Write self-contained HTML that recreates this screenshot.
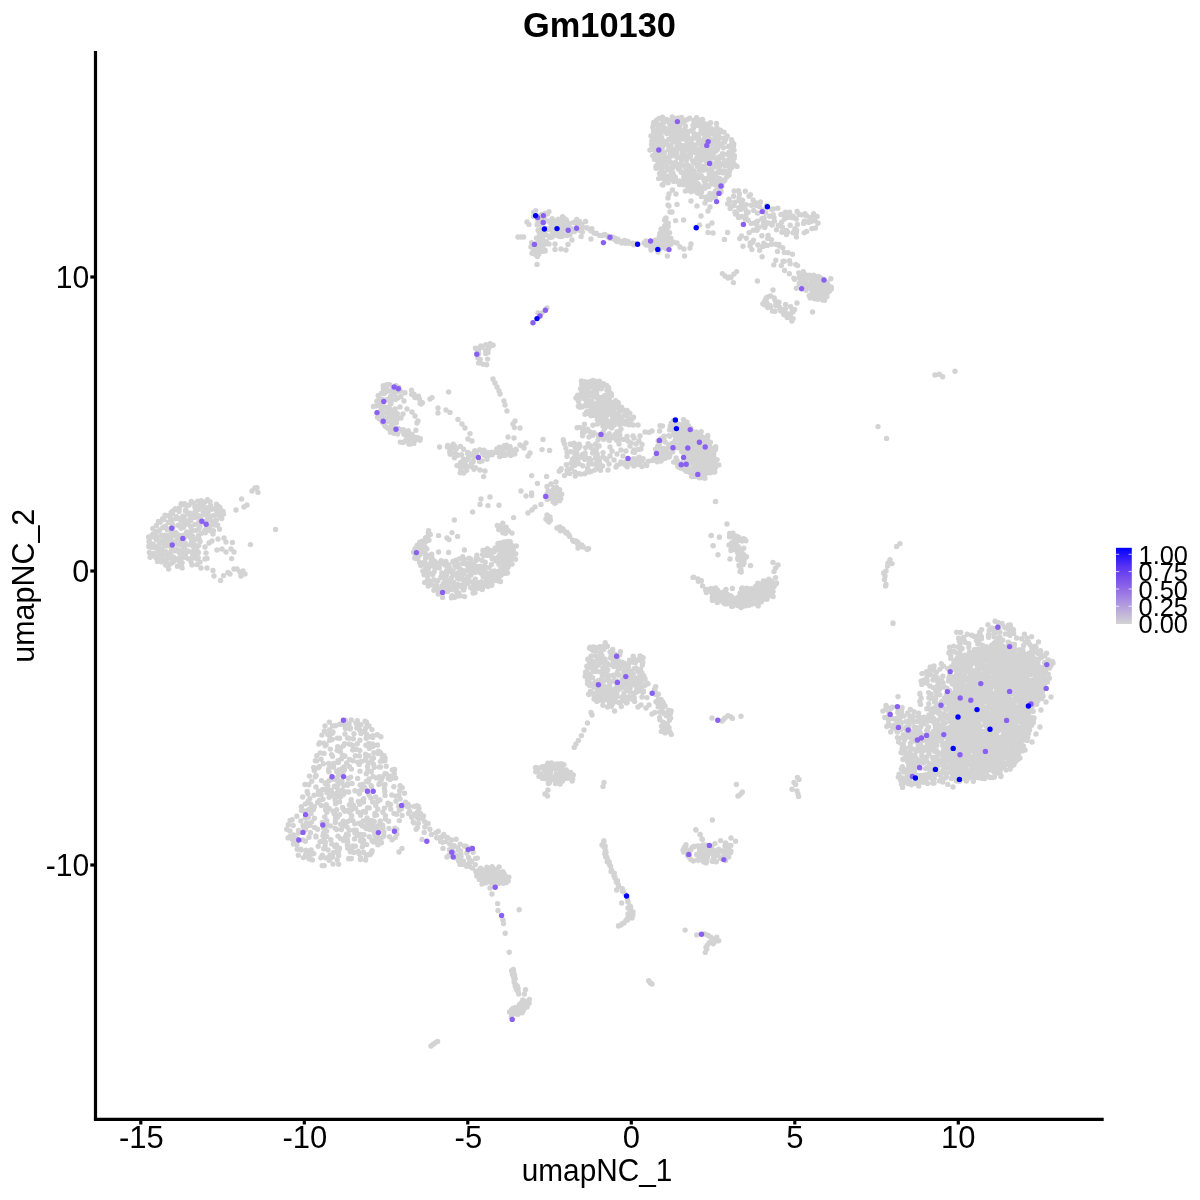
<!DOCTYPE html>
<html><head><meta charset="utf-8"><title>Gm10130</title>
<style>html,body{margin:0;padding:0;background:#fff}svg{display:block}</style>
</head><body>
<svg width="1200" height="1200" viewBox="0 0 1200 1200">
<rect width="1200" height="1200" fill="#fff"/>
<g stroke="#000" stroke-width="3.2" fill="none" stroke-linecap="butt">
<path d="M95.5 51V1119.4"/>
<path d="M93.9 1119.4H1103.7"/>
<path d="M90.3 277.0H95.5"/>
<path d="M90.3 571.0H95.5"/>
<path d="M90.3 865.0H95.5"/>
<path d="M140.8 1119.4V1124.5"/>
<path d="M304.3 1119.4V1124.5"/>
<path d="M467.8 1119.4V1124.5"/>
<path d="M631.3 1119.4V1124.5"/>
<path d="M794.8 1119.4V1124.5"/>
<path d="M958.3 1119.4V1124.5"/>
</g>
<g font-family="'Liberation Sans', Arial, Helvetica, sans-serif" fill="#000">
<text x="599.5" y="36.6" font-size="34.5" font-weight="bold" text-anchor="middle" textLength="153" lengthAdjust="spacingAndGlyphs">Gm10130</text>
<text x="89.3" y="287.7" font-size="31" text-anchor="end" textLength="33.5" lengthAdjust="spacingAndGlyphs">10</text>
<text x="89.3" y="581.7" font-size="31" text-anchor="end" textLength="17" lengthAdjust="spacingAndGlyphs">0</text>
<text x="89.3" y="875.7" font-size="31" text-anchor="end" textLength="43.5" lengthAdjust="spacingAndGlyphs">-10</text>
<text x="141.4" y="1147.6" font-size="31" text-anchor="middle">-15</text>
<text x="304.9" y="1147.6" font-size="31" text-anchor="middle">-10</text>
<text x="468.4" y="1147.6" font-size="31" text-anchor="middle">-5</text>
<text x="631.3" y="1147.6" font-size="31" text-anchor="middle">0</text>
<text x="794.8" y="1147.6" font-size="31" text-anchor="middle">5</text>
<text x="958.3" y="1147.6" font-size="31" text-anchor="middle">10</text>
<text x="597" y="1180.8" font-size="31" text-anchor="middle" textLength="150.5" lengthAdjust="spacingAndGlyphs">umapNC_1</text>
<text transform="translate(34.2 585.7) rotate(-90)" font-size="31" text-anchor="middle" textLength="154" lengthAdjust="spacingAndGlyphs">umapNC_2</text>
<text x="1138.5" y="563.9" font-size="26" textLength="49.5" lengthAdjust="spacingAndGlyphs">1.00</text>
<text x="1138.5" y="581.2" font-size="26" textLength="49.5" lengthAdjust="spacingAndGlyphs">0.75</text>
<text x="1138.5" y="598.6" font-size="26" textLength="49.5" lengthAdjust="spacingAndGlyphs">0.50</text>
<text x="1138.5" y="615.9" font-size="26" textLength="49.5" lengthAdjust="spacingAndGlyphs">0.25</text>
<text x="1138.5" y="633.3" font-size="26" textLength="49.5" lengthAdjust="spacingAndGlyphs">0.00</text>
</g>
<defs><linearGradient id="lg" x1="0" y1="0" x2="0" y2="1"><stop offset="0" stop-color="#0000ff"/><stop offset="0.25" stop-color="#5a34f2"/><stop offset="0.5" stop-color="#8a62e8"/><stop offset="0.75" stop-color="#b29bdf"/><stop offset="1" stop-color="#d3d3d3"/></linearGradient></defs>
<rect x="1116" y="547.8" width="15.8" height="76.2" fill="url(#lg)"/>
<g stroke="#fff" stroke-width="0.9" opacity="0.8">
<path d="M1116 554.3h3.2M1131.8 554.3h-3.2"/>
<path d="M1116 571.6h3.2M1131.8 571.6h-3.2"/>
<path d="M1116 589.0h3.2M1131.8 589.0h-3.2"/>
<path d="M1116 606.3h3.2M1131.8 606.3h-3.2"/>
</g>
<path d="M810.0 280.0L820.0 276.0L828.0 282.0L829.0 293.0L821.0 299.0L813.0 297.0L810.0 288.0Z M665.6 222.0L669.0 238.0L668.0 246.0L660.0 247.0L652.0 244.0L659.0 239.0L662.4 231.0Z M500.0 542.0L512.0 546.0L513.0 556.0L509.0 568.0L502.0 576.0L494.0 582.0L486.0 584.0L485.0 578.0L492.0 572.0L500.0 570.0L504.0 560.0L502.0 550.0Z M684.0 424.0L695.0 432.0L705.0 437.0L713.0 449.0L716.0 463.0L713.0 472.0L704.0 475.0L696.0 470.0L692.0 458.0L686.0 450.0L680.0 436.0L676.0 426.0Z M708.0 589.0L720.0 594.0L734.0 598.0L746.0 592.0L754.0 592.0L764.0 584.0L773.0 581.0L773.0 592.0L767.0 599.0L757.0 603.0L746.0 605.0L732.0 605.0L720.0 600.0L713.0 597.0Z M478.0 875.0L484.0 869.0L494.0 868.0L505.0 874.0L507.0 879.0L503.0 883.0L494.0 883.6L482.0 882.0Z" fill="#d3d3d3" stroke="#d3d3d3" stroke-width="3" stroke-linejoin="round"/>
<g fill="none" stroke-linecap="round" stroke-width="5.4">
<path stroke="#d3d3d3" d="M694.7 186.8h0M663.6 120.6h0M718.1 145.0h0M699.2 125.6h0M673.2 117.8h0M716.8 127.6h0M718.1 187.5h0M673.3 174.7h0M687.3 164.7h0M683.9 181.0h0M704.6 185.6h0M711.2 180.4h0M655.4 156.5h0M709.5 160.0h0M733.2 162.1h0M691.1 145.5h0M717.1 138.7h0M716.8 190.1h0M724.9 171.1h0M670.1 125.4h0M686.7 139.0h0M662.3 147.7h0M675.6 163.1h0M675.9 137.0h0M680.1 144.6h0M702.6 133.3h0M719.2 163.1h0M699.6 170.3h0M673.7 181.4h0M671.0 132.2h0M701.4 196.5h0M678.1 117.9h0M723.6 147.7h0M698.0 155.3h0M681.6 121.5h0M675.0 123.2h0M656.1 168.2h0M733.3 157.1h0M717.1 149.9h0M663.7 129.4h0M672.9 167.6h0M692.8 170.8h0M677.6 157.1h0M660.6 151.7h0M696.5 117.8h0M706.2 134.9h0M692.2 179.8h0M684.9 129.1h0M726.8 176.7h0M652.7 155.6h0M655.2 136.3h0M694.1 133.5h0M725.9 165.5h0M657.0 144.8h0M701.6 141.4h0M697.4 175.1h0M678.4 131.1h0M693.7 162.4h0M679.4 133.4h0M658.0 160.4h0M699.7 170.4h0M720.5 130.3h0M730.5 158.4h0M721.5 179.9h0M716.5 123.5h0M714.6 192.8h0M687.6 189.2h0M669.7 161.5h0M710.8 152.5h0M713.5 181.2h0M663.1 140.7h0M651.9 140.7h0M724.0 138.2h0M699.1 139.6h0M670.6 120.4h0M703.5 166.1h0M690.5 156.1h0M681.7 160.5h0M714.8 135.4h0M680.4 131.4h0M724.3 162.5h0M689.2 138.7h0M683.8 123.3h0M658.7 161.6h0M673.7 125.1h0M708.5 177.4h0M690.0 171.3h0M733.4 158.8h0M691.7 167.6h0M656.7 120.1h0M731.7 167.6h0M679.4 184.6h0M672.1 140.0h0M667.6 177.5h0M698.7 159.0h0M677.0 164.4h0M712.5 130.9h0M685.1 165.3h0M713.2 174.9h0M715.2 151.5h0M710.2 199.6h0M680.2 121.1h0M705.8 124.0h0M709.1 137.7h0M691.7 139.4h0M704.0 150.2h0M693.5 128.2h0M710.9 142.4h0M731.6 146.5h0M705.5 197.1h0M724.0 154.1h0M686.9 184.9h0M675.6 149.0h0M704.9 188.3h0M693.9 120.4h0M690.8 184.6h0M718.0 178.3h0M686.3 175.3h0M717.1 172.7h0M729.8 146.6h0M717.6 148.9h0M678.6 181.2h0M664.1 173.2h0M662.1 167.3h0M659.2 140.0h0M719.2 156.7h0M732.1 141.8h0M660.3 125.0h0M703.4 170.2h0M698.7 149.1h0M699.7 177.2h0M709.3 134.1h0M666.4 130.1h0M664.5 152.7h0M687.2 133.8h0M707.9 144.8h0M671.1 145.2h0M672.1 127.5h0M719.7 145.8h0M713.7 153.6h0M717.2 143.8h0M682.3 151.3h0M713.4 167.0h0M701.1 130.8h0M684.1 148.8h0M692.6 138.6h0M685.3 191.1h0M676.3 128.1h0M696.6 158.3h0M664.8 180.7h0M686.5 147.4h0M659.5 173.5h0M705.4 145.8h0M718.2 167.7h0M684.7 172.5h0M713.0 147.9h0M700.8 167.8h0M660.3 137.2h0M682.7 145.6h0M709.2 173.1h0M711.9 131.0h0M692.5 160.6h0M731.5 139.7h0M656.9 131.2h0M678.2 181.8h0M654.9 149.1h0M696.6 122.5h0M665.1 176.0h0M718.6 134.3h0M698.3 125.7h0M710.2 164.7h0M672.0 178.6h0M668.2 182.7h0M729.6 167.5h0M673.0 149.5h0M687.3 184.4h0M679.4 182.0h0M714.4 142.1h0M659.5 156.4h0M655.3 158.8h0M680.9 163.8h0M694.8 148.7h0M662.5 117.2h0M719.8 178.8h0M679.5 180.9h0M715.7 190.8h0M658.6 178.6h0M680.5 157.2h0M671.6 163.0h0M673.4 141.4h0M660.6 147.6h0M699.8 157.7h0M695.0 152.6h0M731.5 167.3h0M722.5 157.9h0M706.7 145.5h0M712.7 197.2h0M704.7 146.0h0M654.7 140.5h0M723.0 164.1h0M702.1 189.7h0M697.1 178.1h0M675.1 129.9h0M727.4 160.4h0M724.7 142.0h0M658.3 129.2h0M658.9 163.7h0M671.0 171.4h0M700.8 160.4h0M666.5 119.4h0M688.3 190.3h0M678.8 128.6h0M665.7 141.7h0M656.8 142.3h0M685.2 176.9h0M671.4 150.5h0M658.0 156.9h0M690.1 156.7h0M658.5 150.0h0M718.9 172.4h0M689.8 118.3h0M685.8 168.5h0M664.8 161.0h0M654.0 146.8h0M724.1 181.1h0M701.4 192.3h0M718.9 182.9h0M698.2 143.2h0M699.3 165.1h0M686.9 179.9h0M687.2 156.4h0M722.7 172.8h0M663.2 176.2h0M697.8 139.5h0M728.5 146.5h0M677.0 123.6h0M700.4 141.5h0M731.8 151.1h0M727.7 174.1h0M666.9 133.7h0M693.4 173.0h0M683.5 184.7h0M670.6 176.8h0M727.1 163.4h0M697.9 134.7h0M685.2 133.8h0M729.0 152.1h0M651.5 144.3h0M658.0 167.9h0M734.2 158.1h0M677.0 137.5h0M662.5 122.9h0M702.6 119.5h0M685.7 159.7h0M707.0 185.2h0M685.5 148.8h0M698.0 134.9h0M664.7 179.8h0M691.7 178.7h0M712.2 180.2h0M700.7 153.8h0M733.5 146.2h0M691.5 151.6h0M699.4 186.2h0M708.8 134.7h0M666.1 166.0h0M682.2 154.6h0M683.8 177.2h0M704.0 159.6h0M652.8 127.5h0M692.0 144.0h0M712.0 145.2h0M684.5 135.9h0M662.2 184.7h0M723.9 132.1h0M710.9 146.9h0M699.9 176.4h0M662.2 171.2h0M713.9 180.7h0M672.3 133.5h0M653.7 122.5h0M707.9 196.8h0M662.5 178.2h0M718.2 140.2h0M672.6 165.8h0M708.1 164.0h0M707.7 169.8h0M729.4 162.0h0M718.1 161.2h0M687.8 131.7h0M720.1 132.0h0M714.0 196.3h0M731.4 144.9h0M669.2 162.8h0M716.9 128.7h0M708.7 186.6h0M662.8 167.2h0M688.4 119.0h0M663.2 157.9h0M683.2 130.1h0M653.5 131.3h0M709.9 157.7h0M692.2 175.6h0M712.3 146.3h0M713.0 183.5h0M705.3 141.2h0M714.1 131.0h0M705.3 130.6h0M711.8 170.1h0M695.3 175.4h0M722.5 170.9h0M725.1 165.8h0M654.4 150.0h0M687.8 137.0h0M696.8 192.2h0M703.8 124.1h0M713.8 195.6h0M706.6 128.8h0M701.2 166.1h0M709.9 193.5h0M689.2 149.7h0M712.4 183.7h0M697.7 193.1h0M669.3 156.9h0M719.8 137.6h0M667.7 176.1h0M663.6 160.4h0M696.0 184.8h0M707.1 186.4h0M661.7 129.7h0M732.0 162.7h0M711.9 198.0h0M667.4 181.3h0M717.6 138.1h0M697.8 150.4h0M654.4 159.3h0M695.3 188.1h0M722.6 172.1h0M652.4 147.0h0M686.8 137.2h0M691.6 150.8h0M722.4 153.7h0M667.6 169.7h0M661.6 137.3h0M670.2 168.4h0M710.9 132.1h0M672.7 172.4h0M677.3 120.3h0M656.0 154.8h0M687.4 181.4h0M704.2 144.1h0M681.3 123.2h0M697.6 166.4h0M712.5 158.1h0M661.6 166.3h0M711.5 183.9h0M681.2 158.7h0M697.6 189.8h0M662.6 145.2h0M711.7 168.5h0M684.3 159.4h0M688.5 169.7h0M704.5 154.3h0M701.3 175.7h0M655.9 166.5h0M662.5 155.3h0M676.7 152.8h0M728.0 154.8h0M669.4 176.2h0M670.4 170.0h0M701.7 146.2h0M718.9 182.7h0M675.4 177.3h0M679.6 126.3h0M677.5 148.9h0M705.1 155.4h0M701.1 152.5h0M687.0 169.4h0M654.2 130.4h0M686.6 174.8h0M672.5 130.3h0M706.6 133.3h0M681.1 172.2h0M691.1 130.7h0M727.3 165.3h0M680.0 169.8h0M704.8 137.3h0M716.4 148.7h0M707.2 155.9h0M690.7 152.4h0M670.4 147.4h0M691.3 142.9h0M720.8 131.7h0M721.0 171.5h0M731.9 154.5h0M659.8 133.3h0M668.4 149.6h0M653.1 142.2h0M686.8 144.0h0M721.5 144.1h0M703.5 178.1h0M704.6 168.4h0M686.9 144.2h0M703.6 140.3h0M698.3 191.0h0M672.3 116.9h0M693.9 126.0h0M718.2 178.0h0M727.2 135.9h0M664.5 157.0h0M691.8 186.9h0M673.0 124.2h0M694.8 190.5h0M722.2 183.1h0M666.7 144.6h0M666.1 179.3h0M675.5 119.1h0M673.7 155.7h0M689.7 152.6h0M657.4 164.8h0M663.4 131.7h0M654.0 155.3h0M662.1 159.9h0M661.0 163.0h0M700.3 120.3h0M653.6 125.6h0M716.6 192.5h0M710.3 162.8h0M696.0 182.8h0M675.1 154.0h0M669.2 128.6h0M714.0 179.8h0M710.0 142.6h0M685.4 125.9h0M704.1 180.4h0M703.5 144.0h0M721.8 186.2h0M686.6 159.8h0M710.1 159.7h0M698.6 137.1h0M694.3 184.7h0M660.2 154.4h0M733.7 144.0h0M703.4 158.4h0M675.6 162.3h0M694.1 122.7h0M655.5 152.0h0M720.9 191.0h0M653.5 124.9h0M702.2 153.2h0M725.0 179.7h0M678.2 141.5h0M691.3 191.8h0M672.9 140.9h0M706.3 200.0h0M712.7 178.9h0M706.7 179.4h0M706.1 157.2h0M708.0 150.1h0M718.6 158.9h0M656.9 152.2h0M709.0 125.9h0M715.9 162.7h0M682.0 181.5h0M660.4 142.1h0M684.0 156.4h0M709.9 145.2h0M682.3 139.1h0M668.7 139.4h0M672.6 177.9h0M682.1 147.6h0M714.7 148.1h0M710.3 170.4h0M708.1 154.0h0M680.8 135.4h0M691.0 152.8h0M690.1 149.6h0M664.1 122.2h0M656.0 139.0h0M677.1 144.4h0M676.2 130.1h0M681.4 122.7h0M701.0 149.6h0M698.7 184.8h0M685.6 139.2h0M721.0 191.9h0M725.6 139.2h0M689.3 174.0h0M670.2 153.9h0M683.5 173.7h0M682.5 135.8h0M710.3 140.1h0M693.1 125.3h0M667.2 144.1h0M675.7 154.0h0M663.3 161.9h0M710.9 133.4h0M673.8 165.7h0M697.6 183.5h0M686.4 120.0h0M706.7 161.8h0M683.4 138.4h0M715.6 174.0h0M714.5 139.2h0M672.9 134.2h0M658.1 147.1h0M660.6 147.7h0M687.8 184.6h0M694.2 135.7h0M723.7 142.1h0M657.8 125.6h0M715.2 197.6h0M669.5 123.3h0M696.0 163.8h0M715.2 194.9h0M729.6 154.0h0M675.8 137.0h0M671.3 137.1h0M695.3 145.1h0M704.3 127.0h0M681.8 165.3h0M710.6 122.8h0M685.6 176.9h0M669.5 128.6h0M684.3 152.1h0M664.4 127.6h0M658.9 118.5h0M694.9 148.6h0M734.0 150.2h0M661.9 173.7h0M705.0 182.5h0M715.7 185.1h0M681.6 117.5h0M719.9 166.0h0M729.6 171.3h0M687.0 181.2h0M700.5 123.6h0M719.6 145.4h0M664.3 158.3h0M654.7 131.7h0M708.1 156.9h0M716.6 158.1h0M656.5 121.3h0M677.3 137.0h0M694.2 171.0h0M718.0 181.3h0M676.1 131.9h0M682.1 119.1h0M690.3 177.3h0M652.1 143.1h0M674.9 180.0h0M711.4 128.8h0M703.2 129.7h0M664.9 158.9h0M701.1 126.4h0M678.4 169.0h0M689.2 165.9h0M691.8 146.2h0M672.0 129.6h0M677.4 157.6h0M651.0 136.0h0M650.0 150.0h0M735.0 165.0h0M737.0 166.4h0M734.4 155.6h0M663.0 185.0h0M729.0 175.0h0M785.0 213.1h0M728.9 199.1h0M761.9 218.8h0M756.2 203.0h0M796.6 230.1h0M743.0 206.9h0M749.0 196.3h0M774.0 217.6h0M745.3 219.2h0M803.6 223.4h0M757.3 213.1h0M776.5 229.7h0M741.6 203.4h0M786.4 234.6h0M796.4 237.1h0M740.8 209.3h0M781.9 232.2h0M772.2 225.0h0M736.6 212.9h0M734.2 190.9h0M766.1 222.6h0M730.2 208.5h0M785.6 216.2h0M799.0 214.3h0M797.1 211.5h0M769.7 216.3h0M780.9 214.4h0M811.9 221.2h0M771.2 223.4h0M805.0 213.7h0M789.7 212.2h0M797.4 224.5h0M773.4 209.0h0M810.6 217.5h0M817.1 216.4h0M742.6 200.3h0M763.5 210.0h0M748.1 220.3h0M808.7 222.4h0M760.6 201.9h0M746.3 211.9h0M745.0 208.5h0M785.4 212.2h0M753.0 205.1h0M792.5 217.7h0M734.1 205.5h0M764.8 227.4h0M796.3 219.0h0M782.3 227.2h0M762.8 226.1h0M734.8 202.3h0M764.2 217.9h0M815.5 228.0h0M738.8 207.7h0M777.8 208.2h0M738.5 217.6h0M814.8 220.6h0M741.8 216.5h0M804.3 232.7h0M789.6 217.4h0M778.2 225.4h0M781.6 222.3h0M763.4 222.4h0M793.1 232.8h0M753.1 199.9h0M765.7 212.7h0M766.7 205.7h0M745.8 216.2h0M759.6 206.7h0M751.3 205.3h0M811.9 228.6h0M757.0 225.6h0M739.4 194.0h0M757.3 226.9h0M793.2 216.3h0M746.2 204.6h0M748.2 212.3h0M758.3 227.9h0M751.2 223.4h0M735.5 214.0h0M796.5 232.6h0M807.8 221.6h0M733.7 196.3h0M766.3 223.9h0M738.5 190.7h0M756.0 205.2h0M784.5 218.9h0M727.6 203.7h0M818.1 223.1h0M757.4 221.3h0M817.9 223.3h0M750.5 194.6h0M806.7 216.0h0M786.7 230.5h0M784.3 219.0h0M757.9 213.1h0M729.7 201.2h0M767.6 222.8h0M738.7 200.7h0M745.3 191.2h0M753.7 210.4h0M786.9 217.2h0M774.6 221.1h0M732.3 206.1h0M802.0 214.9h0M735.0 211.9h0M814.4 216.6h0M771.6 209.3h0M806.6 231.4h0M754.6 223.0h0M739.1 198.0h0M794.9 228.8h0M771.5 224.5h0M790.2 225.2h0M813.6 213.8h0M773.2 214.6h0M740.1 217.0h0M804.2 221.2h0M787.6 232.2h0M752.0 204.9h0M775.7 244.2h0M746.3 238.2h0M803.3 271.6h0M775.8 260.2h0M743.0 246.3h0M761.9 235.8h0M784.3 261.2h0M789.4 273.8h0M797.6 265.6h0M759.6 250.2h0M751.9 249.6h0M794.6 279.2h0M798.8 273.0h0M782.8 247.8h0M750.1 246.1h0M771.4 239.7h0M762.1 256.7h0M784.3 252.4h0M784.6 270.5h0M757.1 230.2h0M750.3 242.9h0M763.8 243.2h0M752.7 242.2h0M757.9 245.0h0M805.1 274.4h0M795.8 264.4h0M749.1 232.7h0M739.7 238.5h0M773.8 264.9h0M777.5 251.4h0M793.8 278.1h0M792.5 254.3h0M778.9 244.5h0M771.5 244.2h0M783.0 261.4h0M741.6 236.0h0M765.8 245.2h0M781.3 265.6h0M789.6 260.8h0M767.8 238.4h0M753.2 230.3h0M788.1 252.7h0M762.8 246.4h0M753.4 240.3h0M790.2 263.7h0M768.1 235.4h0M767.5 245.4h0M779.2 246.1h0M829.5 290.9h0M805.3 281.6h0M816.8 289.2h0M812.3 292.6h0M801.7 289.1h0M818.0 299.3h0M822.7 300.1h0M814.4 288.1h0M827.3 283.3h0M802.4 276.4h0M814.9 277.6h0M802.8 285.9h0M820.3 280.5h0M825.4 288.6h0M810.2 297.9h0M806.6 288.7h0M796.3 288.3h0M821.2 292.1h0M817.4 277.4h0M807.9 278.2h0M826.5 296.4h0M805.4 279.7h0M831.4 288.9h0M818.3 298.9h0M799.6 282.7h0M819.1 288.5h0M799.2 277.5h0M799.3 283.8h0M812.2 286.8h0M830.8 278.8h0M831.2 287.3h0M829.3 286.2h0M821.3 279.6h0M809.2 295.4h0M822.2 279.5h0M813.5 285.0h0M801.7 280.7h0M807.0 283.9h0M827.0 296.5h0M813.7 275.3h0M825.8 291.3h0M827.2 286.4h0M809.6 275.3h0M824.6 300.3h0M808.1 285.6h0M818.2 283.8h0M811.6 282.7h0M821.9 284.2h0M801.1 283.4h0M804.8 284.3h0M819.2 283.6h0M805.8 287.1h0M818.3 291.1h0M814.7 298.7h0M814.8 282.3h0M802.4 288.7h0M806.1 290.2h0M815.0 286.2h0M818.1 276.4h0M813.6 276.2h0M787.0 313.7h0M791.8 321.1h0M779.0 302.2h0M782.8 309.6h0M765.9 298.4h0M793.0 311.9h0M764.9 304.9h0M774.2 298.0h0M779.7 308.1h0M785.4 308.8h0M775.0 311.2h0M762.9 303.7h0M770.5 306.8h0M792.2 311.1h0M794.6 309.4h0M780.8 311.1h0M769.9 305.5h0M785.6 304.5h0M769.1 296.4h0M779.6 307.2h0M783.8 314.5h0M791.0 318.0h0M768.6 305.4h0M775.2 300.6h0M766.8 303.1h0M775.8 305.6h0M766.1 299.6h0M790.4 314.1h0M782.3 311.0h0M772.5 311.0h0M770.5 295.9h0M787.2 317.6h0M790.6 306.7h0M775.8 304.4h0M767.1 297.2h0M764.7 301.1h0M793.1 318.6h0M767.7 307.5h0M812.6 312.0h0M797.0 303.0h0M773.0 290.0h0M757.4 281.0h0M722.4 273.6h0M725.0 276.0h0M728.0 278.0h0M731.0 277.6h0M734.0 274.0h0M736.6 271.6h0M733.4 282.6h0M729.6 277.0h0M669.0 194.0h0M676.0 194.0h0M668.0 205.0h0M677.0 204.4h0M670.0 212.0h0M666.0 218.0h0M667.0 224.0h0M665.0 230.0h0M675.6 220.6h0M683.6 220.0h0M672.4 190.0h0M668.0 198.0h0M669.0 206.0h0M672.0 212.0h0M655.3 240.3h0M661.7 247.5h0M667.9 224.2h0M670.8 238.1h0M661.1 229.0h0M666.9 245.1h0M664.0 237.6h0M659.6 237.4h0M653.1 244.5h0M661.1 240.0h0M653.5 244.3h0M661.5 232.6h0M664.5 220.0h0M654.0 247.8h0M652.0 241.8h0M665.8 233.4h0M669.5 232.7h0M667.2 238.9h0M650.0 246.2h0M667.0 222.9h0M661.8 239.1h0M661.1 243.4h0M657.1 248.7h0M668.2 226.5h0M673.3 242.0h0M664.6 247.1h0M665.0 242.8h0M670.7 244.5h0M653.1 245.0h0M664.7 225.6h0M664.2 236.6h0M672.6 242.8h0M649.3 245.5h0M664.2 242.1h0M665.9 248.8h0M662.0 239.6h0M660.4 243.6h0M665.3 248.3h0M659.2 237.0h0M663.4 233.2h0M668.3 246.2h0M664.7 238.0h0M664.7 236.4h0M669.9 243.9h0M667.0 229.5h0M659.8 233.4h0M668.2 223.1h0M651.3 246.2h0M659.2 249.5h0M648.6 244.0h0M677.0 243.0h0M680.0 247.0h0M684.0 249.0h0M691.0 244.0h0M690.0 248.0h0M684.6 256.0h0M667.4 256.0h0M691.0 201.0h0M697.0 206.0h0M701.0 216.0h0M708.0 211.0h0M708.0 226.0h0M712.0 223.0h0M713.0 233.0h0M708.0 232.4h0M699.6 225.0h0M727.6 232.4h0M724.4 239.4h0M705.0 203.0h0M710.0 207.0h0M543.0 249.0h0M579.5 223.2h0M535.0 254.3h0M536.7 238.2h0M557.7 225.5h0M546.4 241.6h0M546.8 228.8h0M572.2 229.0h0M545.9 213.9h0M537.9 220.7h0M531.0 247.0h0M541.8 214.4h0M545.7 234.5h0M562.3 233.4h0M535.7 210.6h0M542.2 235.5h0M581.8 224.4h0M573.8 222.5h0M570.0 234.7h0M544.7 221.2h0M547.4 214.0h0M561.0 230.7h0M565.7 226.8h0M562.2 221.7h0M569.7 232.6h0M536.7 246.4h0M548.8 236.2h0M566.6 221.5h0M563.9 224.0h0M539.9 233.8h0M540.8 224.2h0M537.4 253.1h0M553.0 223.4h0M576.9 221.3h0M579.7 230.6h0M559.9 236.5h0M566.2 219.7h0M591.1 230.9h0M552.1 237.1h0M544.8 219.2h0M555.3 221.3h0M564.1 227.8h0M549.6 220.9h0M536.8 251.4h0M579.8 221.7h0M545.4 228.5h0M533.8 212.2h0M556.4 230.6h0M535.5 252.3h0M562.3 236.3h0M570.7 230.9h0M562.5 227.8h0M539.4 233.3h0M558.3 219.3h0M539.0 241.6h0M576.8 219.4h0M585.6 221.5h0M550.6 228.7h0M561.2 232.2h0M540.9 217.8h0M569.2 223.4h0M566.9 224.6h0M587.1 228.0h0M576.2 223.5h0M545.7 230.0h0M568.1 231.5h0M582.4 232.1h0M540.1 229.7h0M557.4 228.2h0M541.6 218.1h0M558.9 236.2h0M542.3 232.1h0M555.8 229.0h0M536.7 252.7h0M533.3 252.5h0M549.9 222.6h0M537.7 216.3h0M534.5 214.8h0M561.3 220.3h0M567.4 230.9h0M542.7 223.5h0M533.6 216.4h0M582.0 227.8h0M559.8 232.7h0M562.6 216.7h0M533.3 244.3h0M535.2 243.9h0M540.7 246.2h0M546.3 229.8h0M558.7 220.2h0M556.6 229.8h0M541.8 222.4h0M555.8 235.1h0M542.7 223.0h0M552.2 218.8h0M557.7 231.3h0M554.9 225.1h0M553.6 233.4h0M562.8 228.9h0M551.5 227.2h0M554.5 228.4h0M552.0 223.0h0M563.9 218.1h0M550.8 227.7h0M545.0 213.5h0M574.4 231.5h0M538.1 230.2h0M550.1 237.6h0M542.5 215.8h0M552.2 234.7h0M558.6 227.8h0M560.6 226.8h0M567.1 235.4h0M533.7 250.2h0M545.2 251.1h0M540.3 242.9h0M545.5 229.3h0M571.1 228.3h0M586.4 227.6h0M558.8 221.2h0M550.3 229.8h0M537.1 224.7h0M561.1 220.5h0M557.2 228.0h0M563.5 223.6h0M535.3 248.5h0M542.3 242.6h0M569.7 231.9h0M537.4 238.4h0M581.1 236.6h0M527.0 222.0h0M529.0 224.4h0M518.0 237.0h0M521.0 237.0h0M523.6 237.0h0M555.0 249.4h0M561.0 249.0h0M566.0 250.0h0M568.0 244.4h0M572.0 240.0h0M537.0 264.4h0M591.0 239.0h0M549.0 211.6h0M555.0 244.0h0M549.0 244.0h0M534.6 246.1h0M542.8 247.0h0M536.5 237.9h0M538.5 253.2h0M540.6 240.2h0M545.0 250.3h0M536.9 246.2h0M545.0 250.5h0M540.1 246.1h0M539.6 248.3h0M542.5 251.3h0M542.8 237.8h0M538.4 242.1h0M533.6 249.6h0M538.4 244.7h0M545.2 244.1h0M532.0 253.2h0M531.6 242.6h0M537.4 256.5h0M538.8 253.9h0M620.3 241.6h0M635.3 243.8h0M595.4 233.6h0M615.2 239.5h0M622.6 241.3h0M611.9 237.0h0M610.4 238.6h0M604.7 234.4h0M608.6 237.4h0M614.6 239.5h0M607.9 236.7h0M616.1 240.0h0M625.6 243.2h0M628.8 242.7h0M612.0 236.9h0M618.0 239.1h0M603.2 234.9h0M628.0 241.4h0M621.6 243.1h0M594.0 233.1h0M614.7 239.0h0M590.3 229.4h0M633.6 244.8h0M599.6 235.4h0M607.8 236.1h0M607.7 236.2h0M616.8 241.6h0M602.5 235.6h0M632.7 243.3h0M629.0 243.2h0M614.7 238.0h0M596.2 233.3h0M591.8 228.7h0M624.9 240.5h0M646.0 241.0h0M646.0 245.0h0M651.0 250.0h0M658.0 252.0h0M644.0 243.0h0M547.0 308.0h0M538.0 313.0h0M542.0 313.0h0M475.5 348.2h0M485.8 353.5h0M483.1 364.2h0M488.0 352.5h0M480.2 359.4h0M493.1 345.3h0M478.6 363.0h0M480.9 347.5h0M485.8 344.6h0M477.9 357.7h0M478.6 353.7h0M486.7 364.7h0M485.7 350.4h0M490.1 343.6h0M478.5 351.6h0M487.6 359.1h0M477.1 353.5h0M490.2 346.3h0M482.0 347.0h0M480.9 346.0h0M478.4 348.1h0M488.4 348.9h0M493.0 379.0h0M495.0 383.0h0M497.0 387.0h0M499.0 391.0h0M500.0 394.0h0M504.0 401.0h0M505.0 405.0h0M507.0 411.0h0M515.0 421.0h0M513.0 424.0h0M514.4 427.6h0M520.0 428.0h0M508.0 437.0h0M514.0 438.0h0M404.9 392.7h0M381.0 417.4h0M392.7 391.0h0M378.6 402.2h0M384.6 425.3h0M412.1 434.4h0M396.4 422.8h0M380.9 410.0h0M388.1 417.1h0M414.9 440.6h0M413.8 443.4h0M387.5 399.4h0M420.3 438.8h0M394.8 416.9h0M379.4 418.9h0M408.5 441.3h0M402.8 432.1h0M393.1 416.0h0M398.2 428.5h0M377.5 417.3h0M379.9 416.9h0M381.6 393.2h0M400.3 391.0h0M420.0 440.2h0M381.0 415.1h0M386.9 420.1h0M389.2 390.9h0M376.9 401.3h0M387.0 407.5h0M409.8 435.1h0M420.0 439.3h0M378.9 418.2h0M378.8 413.3h0M395.4 399.4h0M414.9 397.6h0M403.9 434.2h0M408.2 430.6h0M373.4 406.4h0M390.3 427.1h0M418.5 396.3h0M415.9 430.2h0M414.0 394.3h0M390.8 403.7h0M397.5 433.9h0M382.9 413.9h0M392.0 429.2h0M411.6 390.3h0M406.3 431.5h0M376.5 405.8h0M408.4 436.1h0M400.8 396.5h0M406.5 439.9h0M393.1 414.8h0M394.7 394.4h0M422.4 402.8h0M386.9 391.4h0M395.9 385.8h0M382.3 422.2h0M398.9 390.8h0M390.4 432.2h0M414.8 437.1h0M411.7 394.2h0M420.1 403.6h0M390.5 396.5h0M403.1 442.4h0M419.5 399.3h0M390.7 410.6h0M379.0 405.2h0M398.9 387.4h0M396.9 416.2h0M403.3 429.6h0M378.2 395.5h0M406.9 438.0h0M408.9 444.1h0M388.3 428.5h0M391.5 424.3h0M391.0 403.1h0M393.1 425.1h0M393.0 388.3h0M397.4 389.9h0M397.3 413.8h0M394.0 433.2h0M385.0 419.5h0M390.5 419.5h0M393.1 391.4h0M382.9 415.8h0M395.3 412.3h0M400.3 442.1h0M390.8 413.8h0M408.7 432.6h0M413.1 438.7h0M394.2 423.0h0M388.8 410.5h0M416.2 397.4h0M390.6 391.1h0M384.2 393.5h0M407.8 436.0h0M379.0 415.2h0M387.6 421.3h0M380.1 400.4h0M386.8 384.8h0M421.2 404.1h0M393.1 427.8h0M381.0 405.7h0M382.7 399.4h0M393.4 420.7h0M401.1 429.6h0M405.3 440.7h0M383.2 412.0h0M387.1 412.5h0M389.7 384.6h0M411.9 438.6h0M410.5 444.1h0M397.4 418.7h0M393.0 411.4h0M391.2 399.7h0M378.8 402.2h0M385.7 426.8h0M378.8 396.8h0M388.6 408.7h0M409.7 434.0h0M383.2 385.8h0M386.2 388.4h0M397.9 398.0h0M411.3 435.0h0M389.3 406.9h0M389.9 402.0h0M410.7 438.9h0M394.4 421.3h0M385.5 388.2h0M377.7 403.2h0M385.5 426.2h0M395.0 408.9h0M417.8 437.7h0M383.9 406.8h0M417.2 437.6h0M383.5 388.8h0M398.0 391.4h0M404.0 401.0h0M400.0 407.0h0M407.0 409.0h0M412.0 412.0h0M415.0 416.0h0M418.0 421.0h0M417.0 423.0h0M403.0 414.0h0M401.0 418.0h0M430.0 399.0h0M432.0 397.6h0M438.0 408.0h0M438.0 413.0h0M446.0 410.0h0M450.0 412.4h0M448.6 392.0h0M458.0 419.4h0M462.0 424.0h0M465.0 428.0h0M470.0 433.6h0M468.0 439.0h0M472.0 441.0h0M456.4 448.7h0M466.5 465.9h0M483.9 450.3h0M473.0 462.1h0M503.2 451.1h0M463.6 449.3h0M466.7 470.2h0M453.2 444.2h0M506.4 447.1h0M473.5 456.3h0M468.3 458.0h0M455.2 453.3h0M474.3 452.8h0M507.6 446.8h0M499.2 447.3h0M450.2 454.3h0M463.3 459.0h0M511.2 450.0h0M463.8 473.0h0M491.7 452.3h0M508.4 448.4h0M460.6 467.6h0M467.0 459.8h0M499.9 449.0h0M482.6 453.3h0M477.5 456.6h0M465.2 464.0h0M500.5 450.5h0M460.2 472.8h0M514.8 454.0h0M487.3 453.1h0M467.9 452.5h0M479.6 461.6h0M487.8 455.9h0M481.9 461.0h0M450.4 450.8h0M503.5 453.2h0M499.7 456.5h0M516.3 450.1h0M454.6 445.9h0M475.6 467.7h0M464.9 466.2h0M460.3 446.4h0M471.5 463.5h0M467.7 453.6h0M458.0 455.2h0M498.1 452.8h0M487.0 459.2h0M454.4 457.7h0M507.6 448.2h0M509.2 452.6h0M471.2 466.6h0M476.7 452.3h0M500.1 454.1h0M447.3 447.0h0M472.0 462.4h0M465.0 466.6h0M449.7 451.9h0M492.0 452.7h0M505.4 455.2h0M462.7 463.7h0M506.5 445.2h0M472.2 467.1h0M460.9 470.0h0M510.1 446.8h0M510.7 455.5h0M509.3 453.2h0M492.0 454.8h0M484.5 455.2h0M461.5 454.6h0M454.7 448.2h0M484.3 454.5h0M487.8 452.5h0M474.8 450.6h0M492.0 454.2h0M500.6 447.7h0M451.9 447.0h0M470.5 454.1h0M502.9 455.2h0M501.7 449.2h0M460.9 467.6h0M502.0 454.9h0M504.5 455.4h0M496.8 449.0h0M460.3 463.5h0M494.5 452.6h0M457.0 465.6h0M474.0 469.2h0M449.8 448.5h0M507.6 453.8h0M447.7 445.5h0M460.9 462.4h0M510.7 450.1h0M515.7 449.1h0M504.3 445.6h0M479.8 449.6h0M473.2 461.0h0M496.9 451.1h0M439.6 447.0h0M480.0 470.0h0M485.0 471.0h0M483.6 476.6h0M520.0 445.0h0M526.0 443.0h0M524.0 448.0h0M530.0 453.0h0M528.0 456.0h0M522.0 446.0h0M543.0 439.4h0M542.0 449.6h0M549.6 450.4h0M559.7 489.6h0M549.9 494.3h0M555.1 499.9h0M561.7 494.1h0M554.7 503.3h0M558.1 492.9h0M559.7 493.3h0M552.1 498.6h0M556.1 501.4h0M553.7 496.3h0M553.1 501.8h0M545.4 496.2h0M551.4 496.7h0M551.0 493.4h0M547.2 499.5h0M554.1 488.0h0M553.2 499.6h0M554.7 494.6h0M559.6 500.8h0M548.2 490.9h0M558.0 494.3h0M557.7 495.6h0M555.7 494.4h0M551.6 496.9h0M555.0 502.4h0M555.4 503.0h0M560.1 497.8h0M551.7 497.2h0M560.8 498.3h0M556.6 487.5h0M551.4 498.2h0M550.7 497.1h0M552.8 492.4h0M560.5 498.9h0M560.4 494.9h0M553.1 489.6h0M557.8 489.3h0M550.2 498.2h0M558.8 497.0h0M547.0 494.0h0M531.6 475.6h0M546.6 476.4h0M537.4 483.4h0M551.0 484.0h0M556.0 482.0h0M547.0 486.4h0M521.0 491.0h0M526.0 496.0h0M531.6 493.0h0M531.6 495.6h0M541.0 504.4h0M535.0 507.0h0M532.0 510.0h0M528.0 513.0h0M513.6 517.6h0M547.0 515.0h0M550.0 517.0h0M546.0 519.0h0M549.0 522.0h0M548.0 516.0h0M547.0 520.0h0M550.4 520.0h0M548.4 518.4h0M577.6 542.0h0M572.6 540.1h0M564.0 530.8h0M560.4 530.7h0M579.2 546.3h0M560.7 528.5h0M582.0 545.1h0M577.3 543.4h0M569.6 536.4h0M567.0 532.4h0M587.4 549.5h0M588.5 548.8h0M573.5 541.3h0M569.0 535.2h0M557.0 528.0h0M560.0 527.0h0M563.0 529.0h0M566.0 533.0h0M569.0 535.0h0M576.0 541.0h0M579.0 544.0h0M578.0 548.0h0M583.0 547.0h0M587.0 549.0h0M481.0 499.0h0M490.0 497.0h0M480.0 504.4h0M488.0 505.6h0M499.0 505.2h0M472.6 512.0h0M454.4 520.0h0M491.7 585.3h0M460.3 595.7h0M496.4 548.5h0M429.9 581.1h0M462.7 556.8h0M500.4 572.9h0M446.3 590.2h0M480.3 570.5h0M515.5 559.3h0M457.5 577.9h0M481.7 586.4h0M470.5 559.0h0M422.8 571.0h0M475.7 560.7h0M487.5 582.5h0M505.4 573.3h0M468.2 578.4h0M505.7 568.0h0M413.5 552.2h0M510.2 541.6h0M423.6 548.4h0M442.5 591.5h0M468.1 576.6h0M494.4 570.9h0M459.2 559.0h0M444.0 584.8h0M512.1 564.1h0M484.4 555.4h0M451.4 597.7h0M491.4 564.4h0M475.4 572.4h0M477.1 566.4h0M497.1 577.3h0M488.0 586.6h0M424.4 563.0h0M476.9 555.2h0M417.7 558.3h0M488.2 555.4h0M489.7 554.5h0M507.5 573.0h0M442.1 577.5h0M467.1 563.4h0M510.9 548.1h0M490.2 573.3h0M419.8 542.3h0M502.2 553.6h0M424.0 574.7h0M460.1 568.7h0M479.0 582.8h0M475.0 592.6h0M457.6 596.1h0M464.5 587.4h0M483.1 576.4h0M420.8 565.5h0M440.2 588.9h0M501.4 572.0h0M473.5 564.0h0M458.4 572.7h0M500.1 561.1h0M489.1 567.6h0M456.3 591.2h0M454.9 565.6h0M462.7 579.6h0M510.4 552.4h0M438.6 590.6h0M455.4 575.1h0M505.0 559.9h0M461.9 574.5h0M451.4 578.0h0M465.0 579.1h0M424.7 561.8h0M513.4 549.2h0M428.6 568.2h0M490.4 550.5h0M426.1 566.2h0M431.7 584.7h0M426.8 549.0h0M469.2 566.2h0M495.5 559.6h0M424.9 554.2h0M440.8 563.8h0M419.6 562.2h0M447.2 565.4h0M443.0 562.3h0M455.3 564.7h0M492.2 579.3h0M462.3 587.7h0M448.2 585.2h0M472.3 588.7h0M428.3 568.3h0M446.6 574.7h0M461.5 576.2h0M420.2 549.9h0M431.7 554.1h0M432.8 574.5h0M427.6 564.7h0M428.2 586.0h0M439.3 568.0h0M497.8 557.5h0M486.4 583.6h0M425.1 546.9h0M415.4 558.2h0M434.6 561.1h0M442.6 597.5h0M500.5 572.6h0M473.7 585.7h0M500.5 581.5h0M434.9 589.1h0M441.8 572.9h0M498.3 559.5h0M473.1 593.1h0M437.9 580.8h0M483.3 586.6h0M472.5 581.9h0M433.9 566.6h0M421.4 564.8h0M429.8 584.3h0M464.7 582.4h0M495.2 547.9h0M468.5 579.1h0M516.3 545.9h0M420.2 552.3h0M453.7 582.1h0M439.5 562.7h0M427.6 579.4h0M441.8 591.0h0M474.6 569.9h0M427.8 537.0h0M440.9 577.1h0M478.4 588.3h0M449.8 568.5h0M451.5 597.3h0M448.8 566.7h0M463.7 590.0h0M427.3 571.6h0M488.5 576.3h0M450.2 579.4h0M467.3 583.5h0M442.1 585.6h0M498.0 543.4h0M451.5 589.6h0M469.7 581.8h0M433.9 590.2h0M436.6 585.0h0M456.0 560.2h0M452.7 573.7h0M425.6 558.1h0M432.0 557.6h0M487.4 551.0h0M515.7 553.8h0M455.9 584.5h0M450.6 571.5h0M454.7 597.2h0M417.5 552.8h0M470.7 587.5h0M508.0 541.4h0M441.2 560.6h0M486.7 549.8h0M504.2 542.0h0M498.1 549.9h0M476.3 558.0h0M435.6 565.0h0M469.8 569.3h0M452.2 595.6h0M506.2 555.5h0M446.4 579.4h0M497.8 580.8h0M480.6 573.0h0M439.3 589.1h0M477.3 582.9h0M500.7 548.1h0M454.9 563.6h0M443.6 578.0h0M462.7 563.4h0M458.7 592.9h0M423.9 571.8h0M453.4 582.8h0M430.7 565.3h0M511.0 545.6h0M484.1 568.1h0M471.8 568.1h0M425.9 540.2h0M417.1 545.5h0M458.6 584.6h0M506.9 542.7h0M496.0 561.0h0M463.0 572.0h0M456.9 587.4h0M427.8 576.0h0M475.3 579.1h0M471.0 575.1h0M500.5 558.8h0M485.5 572.0h0M481.9 560.3h0M471.3 565.6h0M447.6 591.6h0M463.9 573.6h0M447.5 566.6h0M480.3 566.3h0M437.1 567.4h0M430.1 557.1h0M480.4 567.8h0M453.0 571.0h0M502.9 542.5h0M485.2 562.2h0M476.2 586.0h0M468.3 569.5h0M447.1 588.5h0M497.1 572.7h0M458.1 576.7h0M474.7 571.3h0M429.0 540.3h0M506.7 549.8h0M424.7 582.4h0M415.0 548.7h0M498.9 564.2h0M510.4 560.0h0M470.5 562.9h0M465.4 571.1h0M476.5 584.6h0M478.8 569.4h0M487.3 548.8h0M511.6 545.2h0M457.8 564.5h0M477.8 558.9h0M457.6 594.1h0M496.1 550.1h0M469.0 558.3h0M425.8 567.7h0M500.9 567.7h0M438.2 594.0h0M469.1 582.1h0M443.7 583.2h0M453.3 583.1h0M504.2 560.6h0M469.8 571.7h0M482.3 589.5h0M445.9 561.5h0M482.6 554.5h0M481.6 581.8h0M492.2 558.7h0M494.0 551.9h0M461.7 585.1h0M494.9 559.3h0M433.6 579.6h0M426.5 554.8h0M446.6 570.8h0M445.1 564.9h0M452.1 587.6h0M476.7 556.9h0M456.3 566.9h0M436.1 563.5h0M493.9 573.8h0M449.3 568.2h0M419.9 545.2h0M494.5 579.2h0M469.4 576.0h0M424.4 552.2h0M453.0 561.4h0M443.3 588.0h0M499.4 555.3h0M484.8 565.6h0M432.5 564.1h0M431.2 561.0h0M499.3 548.3h0M467.0 565.1h0M442.3 573.7h0M478.6 584.2h0M464.6 596.6h0M475.5 587.5h0M434.3 571.6h0M464.2 559.2h0M501.5 562.4h0M492.0 571.9h0M448.9 564.9h0M431.4 560.6h0M445.5 577.9h0M426.7 582.7h0M436.5 581.0h0M425.6 537.7h0M429.5 573.3h0M483.0 550.4h0M458.5 579.1h0M463.5 570.7h0M425.9 541.6h0M447.6 583.6h0M492.3 557.2h0M422.5 546.2h0M486.0 572.7h0M451.7 581.8h0M419.4 546.9h0M422.5 541.3h0M419.5 544.1h0M418.9 553.6h0M417.5 552.2h0M427.0 540.0h0M419.3 550.4h0M420.0 548.6h0M415.0 553.5h0M423.2 544.7h0M419.1 552.1h0M422.1 542.2h0M418.4 544.7h0M428.6 530.7h0M424.2 542.7h0M414.7 558.1h0M421.7 543.1h0M419.4 555.3h0M415.7 558.5h0M428.2 533.1h0M415.3 558.2h0M415.4 554.7h0M418.7 547.3h0M430.3 534.4h0M415.0 553.3h0M418.6 549.8h0M438.6 535.6h0M452.0 532.6h0M457.6 536.4h0M447.0 538.0h0M449.0 539.6h0M438.6 552.0h0M448.6 552.4h0M464.4 550.0h0M454.4 520.0h0M472.6 512.0h0M498.7 529.6h0M502.8 523.1h0M502.9 532.8h0M508.4 530.8h0M506.1 532.3h0M506.0 528.3h0M503.4 530.4h0M512.0 533.1h0M505.4 533.2h0M506.2 527.3h0M501.8 530.1h0M500.9 525.9h0M497.3 525.5h0M501.2 526.7h0M513.6 517.6h0M609.3 422.3h0M588.1 405.0h0M586.2 383.1h0M597.6 396.5h0M607.5 399.4h0M599.9 388.2h0M619.6 407.9h0M621.2 420.2h0M628.4 418.3h0M599.0 398.9h0M605.4 413.7h0M630.9 423.7h0M611.6 407.3h0M606.1 417.8h0M591.2 407.8h0M579.0 400.1h0M614.7 413.3h0M604.9 395.4h0M617.0 404.7h0M584.4 390.6h0M595.8 384.9h0M624.8 422.1h0M587.6 390.3h0M605.3 405.9h0M602.0 403.7h0M607.7 426.2h0M606.1 385.6h0M589.4 402.7h0M622.4 409.1h0M617.2 422.9h0M595.3 410.2h0M595.4 382.0h0M602.5 417.9h0M582.0 385.5h0M600.1 417.9h0M631.1 419.2h0M582.7 395.6h0M607.5 409.9h0M587.9 384.0h0M604.3 396.7h0M604.3 421.9h0M590.2 414.3h0M623.3 423.4h0M588.6 383.3h0M582.1 406.9h0M629.0 424.7h0M601.9 403.2h0M603.3 415.2h0M577.7 395.1h0M590.1 381.7h0M576.4 397.5h0M609.0 402.6h0M629.8 413.2h0M578.3 406.3h0M590.7 393.2h0M623.9 415.4h0M608.7 388.5h0M612.7 417.7h0M607.8 402.4h0M597.8 386.1h0M601.9 406.3h0M627.1 410.4h0M599.2 404.2h0M611.9 408.1h0M611.5 395.7h0M608.0 394.9h0M613.8 414.2h0M627.2 412.8h0M581.4 390.3h0M632.0 418.9h0M613.4 421.4h0M596.5 383.4h0M626.5 422.6h0M584.6 395.2h0M594.1 390.4h0M606.9 390.2h0M584.8 387.8h0M587.1 390.4h0M597.4 419.4h0M578.4 397.1h0M603.4 383.8h0M581.8 384.1h0M619.2 408.9h0M618.1 423.0h0M575.9 398.1h0M593.2 391.9h0M580.6 388.8h0M611.3 409.6h0M596.4 393.8h0M613.6 406.8h0M597.2 415.4h0M613.4 419.7h0M594.1 415.2h0M585.0 414.3h0M615.6 400.8h0M592.0 401.5h0M619.5 409.8h0M617.4 423.0h0M633.1 425.0h0M593.5 391.3h0M597.3 382.3h0M587.0 413.2h0M617.1 402.8h0M578.3 401.0h0M592.9 380.4h0M587.8 404.2h0M588.9 393.3h0M612.0 405.1h0M604.3 400.7h0M607.7 410.5h0M619.9 418.2h0M590.9 386.6h0M624.8 414.5h0M598.0 388.7h0M586.3 406.0h0M593.7 386.0h0M597.6 402.7h0M625.1 423.9h0M601.3 388.7h0M609.2 399.1h0M588.3 387.8h0M612.8 408.6h0M588.5 395.6h0M603.2 410.9h0M592.5 393.6h0M608.4 387.5h0M592.8 394.7h0M584.7 381.6h0M582.8 389.0h0M611.2 422.0h0M597.9 414.0h0M582.9 383.8h0M599.4 381.3h0M619.6 424.5h0M619.5 411.6h0M604.0 421.9h0M587.3 411.7h0M625.9 422.9h0M595.6 381.2h0M606.7 385.4h0M598.1 388.0h0M598.9 408.3h0M608.7 414.2h0M581.4 381.0h0M592.4 414.1h0M601.4 397.4h0M609.8 421.6h0M618.1 420.9h0M588.1 382.3h0M583.9 405.9h0M621.5 407.2h0M587.0 398.1h0M623.7 420.9h0M590.5 395.0h0M590.3 405.7h0M609.5 396.5h0M599.6 414.5h0M618.5 414.5h0M591.2 409.8h0M609.1 391.6h0M601.9 399.1h0M601.5 414.0h0M582.7 386.8h0M584.4 398.8h0M615.6 406.8h0M612.9 402.6h0M603.4 404.7h0M598.6 387.3h0M617.9 406.2h0M608.4 389.9h0M610.5 393.1h0M594.3 388.9h0M588.1 400.4h0M601.5 387.9h0M614.0 409.2h0M602.2 410.6h0M616.8 404.8h0M579.2 404.9h0M607.9 425.4h0M586.6 401.8h0M585.2 391.7h0M593.7 396.4h0M601.4 421.2h0M615.8 414.4h0M611.3 394.0h0M591.7 401.7h0M602.7 406.1h0M616.2 418.6h0M600.0 412.9h0M613.6 412.6h0M616.2 415.0h0M592.6 384.0h0M596.2 397.2h0M594.8 409.2h0M582.8 392.3h0M623.3 421.2h0M605.1 401.8h0M624.4 410.7h0M600.0 385.6h0M613.0 415.4h0M599.5 399.9h0M591.1 415.8h0M598.5 381.6h0M630.3 423.8h0M633.5 417.2h0M593.6 392.2h0M597.5 387.7h0M583.9 393.6h0M594.2 406.1h0M587.9 400.6h0M586.6 412.0h0M580.1 407.2h0M614.0 425.3h0M592.8 396.8h0M593.3 404.2h0M596.7 391.9h0M590.9 409.7h0M594.8 381.9h0M580.1 396.3h0M618.3 402.7h0M600.4 403.5h0M609.0 407.3h0M588.8 402.4h0M581.6 392.8h0M618.4 422.2h0M614.1 437.9h0M587.6 429.2h0M603.2 432.2h0M598.1 439.9h0M584.0 428.7h0M608.9 440.3h0M606.1 436.0h0M589.7 431.6h0M603.0 426.3h0M593.9 432.8h0M592.9 425.3h0M584.4 432.1h0M617.0 431.7h0M615.1 434.4h0M582.6 435.8h0M600.5 422.3h0M584.5 424.1h0M593.0 435.2h0M603.6 439.2h0M577.1 427.7h0M609.2 433.7h0M623.5 439.4h0M620.3 438.9h0M606.5 425.1h0M616.7 440.3h0M582.7 432.5h0M601.2 436.1h0M609.4 440.5h0M598.9 438.0h0M610.9 426.2h0M611.6 428.1h0M598.6 435.0h0M619.9 435.1h0M608.9 425.6h0M582.8 431.4h0M619.7 431.1h0M579.6 427.4h0M611.1 436.6h0M597.4 424.1h0M604.5 428.8h0M588.9 437.0h0M617.4 436.0h0M588.9 472.1h0M585.7 447.6h0M599.3 460.6h0M584.8 459.4h0M602.6 466.0h0M572.4 459.3h0M594.7 470.1h0M567.1 470.3h0M588.9 459.5h0M603.0 452.6h0M567.1 452.0h0M598.1 468.6h0M594.9 451.6h0M582.6 454.4h0M596.5 453.0h0M582.8 465.7h0M605.5 458.8h0M570.6 451.8h0M567.0 456.3h0M579.9 446.5h0M577.4 459.6h0M574.8 471.9h0M561.2 468.6h0M574.1 443.3h0M568.1 469.2h0M573.9 452.0h0M581.0 474.1h0M574.9 446.7h0M603.0 456.9h0M595.5 444.3h0M588.2 443.7h0M579.1 444.1h0M592.7 464.1h0M576.9 453.4h0M587.7 468.3h0M571.1 463.2h0M576.1 462.4h0M571.4 468.4h0M589.0 472.1h0M581.1 457.0h0M564.4 443.8h0M566.3 464.7h0M570.2 444.0h0M578.8 458.2h0M567.6 473.0h0M599.5 463.2h0M575.3 476.1h0M578.9 463.8h0M589.6 458.5h0M588.8 464.2h0M584.7 473.7h0M587.1 471.5h0M559.2 471.2h0M574.7 465.4h0M567.9 452.5h0M600.7 467.8h0M572.8 465.6h0M595.6 457.8h0M575.7 447.4h0M591.1 448.0h0M564.5 475.4h0M560.6 469.9h0M578.1 457.7h0M570.8 444.4h0M585.1 453.0h0M563.3 439.8h0M597.1 466.0h0M599.1 446.0h0M606.8 459.9h0M596.3 448.9h0M563.4 440.9h0M581.6 456.7h0M578.2 448.6h0M569.7 473.6h0M574.8 456.8h0M590.9 471.4h0M597.2 454.0h0M590.8 459.9h0M585.2 456.5h0M596.4 459.3h0M600.5 470.3h0M574.2 457.7h0M592.5 453.1h0M565.8 448.1h0M596.2 464.3h0M579.1 473.6h0M590.3 445.6h0M597.6 457.0h0M610.0 447.0h0M619.0 444.0h0M621.0 450.0h0M617.0 454.0h0M610.0 456.0h0M609.0 464.0h0M616.0 467.0h0M621.0 462.0h0M614.0 460.0h0M612.0 451.0h0M608.0 470.0h0M657.9 456.9h0M620.5 463.8h0M643.2 458.6h0M635.3 461.5h0M653.0 460.4h0M634.5 452.4h0M617.2 465.1h0M652.2 460.5h0M627.3 466.8h0M625.9 461.6h0M632.0 464.1h0M661.1 461.1h0M638.2 457.8h0M629.8 461.0h0M641.9 466.6h0M630.2 460.0h0M665.3 458.2h0M635.4 465.1h0M657.4 461.7h0M638.8 464.2h0M654.5 458.3h0M646.7 465.6h0M633.2 463.1h0M633.5 458.8h0M662.7 458.7h0M640.4 459.7h0M656.2 459.6h0M646.0 463.8h0M648.4 461.2h0M625.4 464.9h0M639.1 457.2h0M641.4 461.3h0M630.1 462.1h0M633.7 465.9h0M628.0 441.0h0M634.0 438.0h0M640.0 436.0h0M636.0 444.0h0M641.0 449.0h0M634.0 450.0h0M630.0 446.0h0M626.0 451.0h0M623.0 456.0h0M639.0 441.0h0M638.0 425.0h0M645.0 432.0h0M649.0 432.4h0M652.0 431.0h0M660.0 425.6h0M662.4 426.0h0M659.6 431.0h0M627.0 436.4h0M633.0 436.0h0M631.0 443.0h0M642.0 444.4h0M638.0 449.4h0M633.0 452.0h0M621.0 429.0h0M665.3 442.1h0M707.3 469.8h0M698.1 441.2h0M688.3 469.1h0M683.9 439.4h0M710.4 442.3h0M700.9 460.3h0M672.6 449.5h0M683.9 453.5h0M693.8 451.9h0M680.7 468.2h0M687.0 422.2h0M658.2 441.0h0M673.7 462.1h0M684.8 470.1h0M700.2 472.8h0M710.4 454.0h0M684.0 444.1h0M694.0 458.6h0M703.3 450.5h0M679.8 464.8h0M695.3 473.1h0M676.0 445.5h0M715.6 446.8h0M709.6 460.8h0M688.8 433.7h0M704.4 442.3h0M696.3 431.9h0M705.4 439.5h0M696.0 444.0h0M718.8 464.9h0M696.3 450.3h0M700.9 436.8h0M673.4 420.7h0M686.3 462.6h0M675.7 440.0h0M698.6 462.1h0M694.3 476.2h0M677.7 466.3h0M669.9 447.1h0M714.7 472.0h0M657.4 451.6h0M669.3 457.0h0M677.2 460.7h0M704.6 478.1h0M679.4 467.6h0M675.1 440.7h0M689.3 472.2h0M655.5 449.1h0M707.4 437.8h0M698.7 460.1h0M714.9 465.5h0M664.3 448.4h0M694.8 465.0h0M674.0 425.4h0M703.4 464.6h0M683.9 449.2h0M700.5 456.9h0M672.3 447.1h0M676.1 458.0h0M693.6 470.2h0M701.7 477.6h0M687.5 428.7h0M675.9 422.3h0M669.7 436.3h0M707.6 458.1h0M664.6 452.0h0M699.7 451.7h0M683.5 419.6h0M689.4 460.2h0M696.6 476.3h0M676.4 431.7h0M686.7 432.0h0M709.1 447.1h0M683.9 426.8h0M698.7 437.5h0M713.8 453.6h0M690.8 428.1h0M686.2 471.3h0M711.5 449.3h0M688.1 458.3h0M703.8 447.8h0M690.7 446.8h0M692.0 442.8h0M695.7 437.7h0M689.7 448.0h0M670.2 452.9h0M700.7 454.6h0M675.5 436.4h0M680.2 443.1h0M674.1 442.4h0M669.7 455.5h0M673.7 434.4h0M696.2 447.6h0M698.3 465.8h0M675.4 425.9h0M666.7 454.6h0M680.0 435.0h0M702.2 462.4h0M692.1 447.8h0M699.9 447.8h0M686.1 428.3h0M672.1 426.0h0M658.2 452.7h0M713.6 462.8h0M715.5 449.4h0M671.2 423.2h0M710.1 472.8h0M697.0 470.4h0M694.0 448.8h0M676.4 462.6h0M691.7 476.6h0M699.3 477.7h0M679.9 438.8h0M691.7 461.3h0M701.8 452.3h0M684.8 452.3h0M713.2 472.1h0M681.7 431.8h0M670.3 444.1h0M666.9 454.5h0M690.2 463.3h0M681.6 424.7h0M679.1 424.4h0M692.5 434.5h0M688.4 438.6h0M701.2 431.6h0M664.0 436.3h0M660.6 438.7h0M688.3 425.6h0M669.7 429.9h0M681.8 440.1h0M689.2 462.7h0M712.0 459.1h0M686.2 461.9h0M686.2 441.1h0M672.1 429.7h0M668.8 435.6h0M680.8 429.6h0M715.6 448.0h0M688.2 467.1h0M677.1 447.8h0M706.3 445.6h0M699.2 455.7h0M694.3 465.0h0M682.1 462.7h0M657.8 446.3h0M673.1 422.0h0M676.8 438.3h0M704.2 474.7h0M692.2 476.6h0M678.8 433.4h0M707.2 456.9h0M692.3 433.3h0M687.5 464.9h0M717.1 459.6h0M712.5 455.4h0M662.3 448.4h0M662.6 440.4h0M707.9 449.2h0M663.0 456.5h0M691.6 472.0h0M700.1 442.4h0M691.5 432.7h0M703.3 440.7h0M692.5 472.1h0M681.7 451.6h0M684.5 423.3h0M696.9 458.6h0M682.5 447.5h0M714.7 468.0h0M691.8 473.7h0M663.9 439.4h0M668.8 445.3h0M666.2 450.5h0M703.3 446.2h0M700.9 435.6h0M707.0 467.4h0M706.3 466.9h0M715.6 459.2h0M683.2 467.5h0M699.5 444.7h0M705.3 462.2h0M685.0 467.6h0M657.1 448.5h0M709.3 442.4h0M675.1 431.9h0M685.8 456.0h0M680.0 447.8h0M670.2 426.2h0M704.3 458.3h0M672.7 451.8h0M660.5 453.3h0M672.3 443.4h0M678.5 437.3h0M707.0 447.6h0M669.0 446.0h0M694.0 452.3h0M702.7 460.5h0M693.6 468.3h0M682.2 444.8h0M658.2 446.4h0M681.0 432.5h0M707.8 435.4h0M705.2 455.9h0M676.7 436.2h0M696.0 464.3h0M679.1 463.4h0M713.2 459.0h0M712.9 466.4h0M715.4 467.5h0M659.4 443.8h0M704.9 478.2h0M708.0 464.7h0M705.0 452.3h0M546.6 476.4h0M715.4 501.6h0M727.0 524.0h0M737.0 549.6h0M744.8 556.3h0M741.4 557.2h0M729.6 533.5h0M745.9 540.7h0M738.4 556.1h0M741.0 560.2h0M732.8 546.5h0M736.3 536.1h0M745.0 558.5h0M738.7 537.2h0M734.5 539.4h0M740.7 550.4h0M741.4 550.8h0M731.9 542.6h0M736.3 546.5h0M733.9 549.3h0M729.5 536.8h0M741.2 572.0h0M739.0 565.0h0M744.2 559.1h0M744.7 539.3h0M741.8 552.2h0M731.6 533.9h0M740.9 569.9h0M733.6 542.6h0M737.4 552.3h0M743.0 564.8h0M742.1 541.0h0M743.7 554.6h0M741.6 563.0h0M738.3 546.6h0M711.0 535.6h0M719.4 537.0h0M713.0 545.6h0M718.0 554.6h0M730.0 559.0h0M750.4 565.6h0M729.0 545.0h0M731.0 550.0h0M730.5 600.5h0M771.9 583.3h0M746.7 588.3h0M710.9 588.5h0M693.7 577.1h0M717.8 590.9h0M749.1 605.2h0M698.4 580.7h0M762.8 595.5h0M773.1 591.4h0M717.3 602.6h0M712.7 595.7h0M740.1 602.8h0M754.2 593.9h0M758.2 605.9h0M750.7 588.6h0M731.3 596.2h0M735.0 599.0h0M775.6 577.6h0M776.2 583.8h0M768.0 591.0h0M773.1 596.5h0M740.0 593.3h0M755.2 587.0h0M723.2 597.0h0M743.7 597.3h0M768.8 579.8h0M744.9 600.1h0M719.0 600.4h0M737.8 599.9h0M698.9 580.6h0M750.1 596.4h0M705.7 590.1h0M752.2 604.1h0M722.5 592.5h0M754.0 603.6h0M759.0 598.7h0M741.6 588.7h0M773.7 585.1h0M748.0 603.6h0M759.3 602.8h0M727.0 603.7h0M766.7 597.8h0M763.4 581.0h0M741.9 606.8h0M758.7 588.4h0M698.3 581.3h0M732.4 606.0h0M724.4 591.7h0M765.6 581.3h0M712.1 590.6h0M715.7 589.9h0M755.6 589.7h0M742.3 587.9h0M768.4 594.7h0M701.4 580.7h0M768.8 591.3h0M747.1 593.3h0M733.9 600.8h0M754.0 592.5h0M727.0 597.2h0M753.2 598.1h0M702.6 585.9h0M707.0 591.3h0M764.3 587.5h0M757.9 583.2h0M723.0 602.2h0M761.5 601.6h0M716.1 590.9h0M725.0 599.3h0M706.5 589.4h0M712.4 600.4h0M759.8 591.6h0M737.6 605.5h0M751.9 598.2h0M756.8 592.4h0M750.3 598.7h0M772.2 591.5h0M757.1 585.2h0M752.8 599.7h0M725.1 597.0h0M717.5 590.2h0M712.4 597.6h0M759.3 595.6h0M760.6 597.8h0M755.3 587.5h0M764.0 592.7h0M758.2 593.1h0M765.4 598.4h0M763.5 585.2h0M766.0 593.3h0M727.9 603.2h0M726.4 594.3h0M743.5 591.4h0M750.3 603.1h0M756.6 587.9h0M745.4 605.8h0M771.6 589.3h0M746.6 591.0h0M741.1 607.5h0M724.7 603.8h0M750.5 593.2h0M771.0 580.6h0M751.3 590.5h0M776.6 583.0h0M713.0 595.7h0M720.3 596.0h0M746.3 595.3h0M767.3 585.1h0M729.9 598.2h0M715.6 588.0h0M747.0 591.9h0M722.1 598.5h0M731.6 606.2h0M767.0 599.3h0M766.7 586.6h0M747.4 590.7h0M757.5 596.8h0M762.9 592.1h0M742.0 602.9h0M740.6 597.3h0M718.1 594.9h0M751.5 603.3h0M728.6 602.0h0M727.0 594.1h0M744.3 602.2h0M769.0 593.1h0M774.1 586.5h0M716.8 592.0h0M750.9 593.5h0M763.1 587.1h0M752.5 598.6h0M762.5 583.4h0M732.6 606.2h0M753.9 593.1h0M770.7 595.3h0M765.1 593.2h0M719.8 596.7h0M716.6 600.1h0M744.7 594.8h0M752.8 590.1h0M745.2 598.2h0M736.3 603.8h0M720.8 598.6h0M706.4 592.4h0M732.4 603.6h0M720.3 596.4h0M728.8 595.2h0M768.8 579.2h0M744.3 604.8h0M726.0 589.4h0M732.4 588.4h0M693.0 577.4h0M698.0 579.0h0M773.0 562.4h0M778.0 565.0h0M775.6 568.0h0M774.0 571.4h0M733.3 536.6h0M739.2 565.9h0M739.2 554.5h0M743.7 548.3h0M740.7 555.8h0M732.9 533.2h0M743.5 538.6h0M734.9 541.4h0M740.6 551.3h0M737.9 559.4h0M733.8 546.3h0M746.5 556.8h0M740.5 551.4h0M739.3 564.9h0M737.1 541.2h0M737.7 558.1h0M737.3 546.1h0M731.9 535.9h0M736.9 546.1h0M741.1 557.5h0M738.3 540.5h0M732.7 537.0h0M736.5 537.1h0M733.4 543.9h0M715.6 501.4h0M727.0 524.0h0M711.4 535.4h0M719.4 537.2h0M713.2 545.8h0M718.0 554.8h0M730.0 559.0h0M731.0 550.4h0M744.0 563.0h0M750.6 565.6h0M740.0 571.6h0M974.3 636.4h0M927.0 676.5h0M928.8 703.8h0M1005.4 633.9h0M928.5 692.6h0M1023.6 645.4h0M1031.6 636.7h0M980.0 632.2h0M960.6 632.5h0M936.4 672.2h0M930.2 666.9h0M957.0 658.5h0M1036.1 651.3h0M968.8 647.4h0M1010.4 625.0h0M993.8 628.5h0M962.4 656.9h0M939.9 669.1h0M921.1 698.2h0M1040.4 650.7h0M921.8 684.4h0M997.0 632.1h0M971.8 635.3h0M1048.4 659.9h0M993.5 630.5h0M949.9 674.4h0M978.7 642.1h0M939.2 689.5h0M929.4 670.5h0M1041.3 656.4h0M988.0 624.8h0M1038.5 641.9h0M1013.4 629.7h0M934.0 670.2h0M938.5 684.1h0M930.7 674.7h0M1024.4 634.1h0M1013.6 633.4h0M1049.6 668.0h0M964.0 640.1h0M1014.5 644.4h0M956.7 653.1h0M927.2 680.6h0M935.8 690.9h0M934.6 702.0h0M960.2 643.4h0M988.5 637.2h0M998.8 623.3h0M949.6 647.1h0M1008.3 642.3h0M997.9 638.2h0M933.1 687.6h0M1005.2 627.7h0M935.7 698.6h0M919.8 701.5h0M981.4 636.8h0M1046.6 653.2h0M926.8 708.7h0M940.5 688.1h0M942.8 676.3h0M1035.0 646.1h0M937.1 686.5h0M998.9 627.4h0M926.2 672.0h0M1027.1 638.1h0M960.7 660.3h0M968.8 643.8h0M947.8 668.6h0M936.4 703.4h0M950.8 658.4h0M922.0 673.6h0M1009.5 633.0h0M989.2 630.3h0M933.6 708.1h0M976.5 640.6h0M941.3 663.7h0M929.0 697.7h0M967.3 634.2h0M944.6 687.3h0M923.6 680.3h0M957.9 647.0h0M963.6 637.4h0M1002.8 640.2h0M956.7 632.2h0M958.6 638.3h0M1041.6 657.3h0M1028.2 641.6h0M1002.1 623.4h0M931.1 694.2h0M991.9 628.3h0M1031.0 652.1h0M937.4 677.8h0M1008.5 625.3h0M995.1 621.3h0M1040.8 652.0h0M941.9 682.0h0M939.8 694.7h0M948.9 678.0h0M1012.4 629.2h0M953.8 664.0h0M954.2 651.5h0M993.8 634.1h0M1016.6 638.0h0M950.1 651.8h0M919.9 694.2h0M928.6 708.5h0M950.8 655.6h0M939.6 680.8h0M1031.6 647.5h0M927.8 671.5h0M950.9 667.0h0M1008.2 629.1h0M1037.6 653.2h0M943.1 683.2h0M950.0 651.0h0M1052.4 661.4h0M929.9 685.9h0M960.3 650.6h0M981.6 629.6h0M926.6 683.0h0M938.2 684.4h0M954.1 661.3h0M920.5 704.4h0M962.1 648.5h0M1044.6 662.5h0M1036.0 647.0h0M962.6 638.4h0M933.6 698.2h0M1021.7 638.7h0M999.1 641.7h0M991.9 629.1h0M941.9 681.1h0M921.1 681.1h0M994.1 636.7h0M934.0 666.0h0M934.6 676.4h0M959.3 641.2h0M965.6 642.6h0M953.6 646.1h0M1034.8 651.3h0M937.0 680.6h0M999.9 632.0h0M1051.0 665.4h0M943.5 666.1h0M988.5 634.7h0M1004.7 627.3h0M1030.0 644.7h0M995.5 642.0h0M948.9 653.0h0M1009.9 635.3h0M979.6 632.4h0M960.3 655.3h0M957.5 660.7h0M1025.3 642.4h0M920.0 693.5h0M1044.8 655.7h0M998.3 622.8h0M930.7 698.5h0M981.5 638.7h0M933.0 679.9h0M976.8 636.4h0M980.5 635.6h0M936.7 695.0h0M1047.9 660.6h0M999.8 637.0h0M904.1 716.1h0M989.5 648.0h0M1039.4 679.6h0M992.8 747.9h0M1023.4 725.3h0M902.3 778.0h0M952.0 712.8h0M1027.6 698.1h0M924.4 723.7h0M1006.6 685.8h0M992.9 671.5h0M1000.8 765.1h0M960.3 683.7h0M956.9 752.0h0M984.6 700.9h0M961.1 729.3h0M1025.9 654.6h0M1014.5 756.8h0M932.4 757.5h0M1031.3 707.4h0M962.0 708.5h0M1010.4 698.6h0M974.9 734.9h0M945.6 777.7h0M897.8 712.6h0M934.8 774.7h0M955.3 690.9h0M961.7 778.7h0M968.8 697.5h0M999.8 737.7h0M963.8 677.6h0M906.7 729.9h0M927.9 742.1h0M923.3 759.8h0M995.1 694.0h0M982.4 718.2h0M942.9 770.7h0M974.9 682.6h0M1038.6 690.3h0M1022.4 738.6h0M923.3 763.0h0M959.6 665.6h0M954.6 737.9h0M1020.3 709.3h0M989.2 667.5h0M979.3 673.2h0M955.0 765.8h0M976.5 719.4h0M982.4 767.9h0M914.0 711.7h0M1010.3 709.5h0M999.0 684.2h0M942.2 718.8h0M951.7 702.5h0M1016.7 669.2h0M984.9 722.8h0M919.8 780.3h0M1008.2 667.2h0M935.4 727.4h0M1006.2 770.1h0M976.0 705.6h0M913.1 755.5h0M972.9 655.3h0M978.6 758.6h0M909.9 731.2h0M976.6 713.4h0M946.2 695.3h0M899.1 738.5h0M939.3 725.4h0M1039.6 699.1h0M1019.9 719.8h0M996.0 657.2h0M969.8 689.8h0M966.6 747.0h0M980.3 730.7h0M971.1 763.7h0M1040.9 683.4h0M970.5 746.9h0M1035.0 662.0h0M981.1 741.7h0M990.6 652.9h0M922.1 717.8h0M918.1 733.7h0M967.8 693.2h0M1010.4 738.2h0M940.6 707.2h0M968.0 754.6h0M1019.1 729.3h0M1014.2 669.9h0M1020.5 690.2h0M1012.2 754.4h0M994.8 696.3h0M1017.9 659.9h0M902.9 759.3h0M1008.8 724.8h0M1005.0 730.2h0M952.3 757.9h0M924.8 748.7h0M1002.4 659.9h0M958.9 761.7h0M933.9 767.4h0M992.8 769.0h0M1015.1 687.1h0M969.8 718.8h0M977.0 691.4h0M1000.6 769.1h0M915.3 781.1h0M947.4 768.1h0M1004.1 654.0h0M998.3 705.6h0M905.1 748.2h0M907.9 774.4h0M971.7 730.0h0M965.1 771.7h0M1025.4 693.2h0M942.7 745.4h0M958.8 695.0h0M996.3 756.9h0M1020.7 715.1h0M987.9 726.1h0M980.2 700.7h0M1003.9 674.9h0M1001.3 690.4h0M999.4 664.8h0M966.4 781.0h0M905.9 721.6h0M933.3 718.1h0M1000.6 700.6h0M978.0 761.9h0M1022.9 748.6h0M990.4 769.7h0M969.7 772.9h0M959.6 742.1h0M1044.4 687.0h0M903.6 751.6h0M936.0 741.3h0M945.2 733.1h0M952.3 684.0h0M953.5 761.2h0M981.9 686.7h0M974.5 649.7h0M1028.8 663.0h0M920.5 735.9h0M967.3 739.6h0M1045.6 669.7h0M1012.6 742.1h0M962.5 721.1h0M939.5 780.9h0M949.4 679.3h0M1024.2 702.9h0M987.4 754.3h0M1007.4 748.4h0M959.7 689.6h0M996.0 645.1h0M916.1 761.7h0M996.5 677.1h0M974.0 688.2h0M885.7 709.2h0M918.5 716.2h0M932.6 713.2h0M982.7 765.2h0M948.0 754.5h0M927.3 767.2h0M975.9 660.2h0M981.3 735.7h0M1011.6 749.9h0M940.3 716.1h0M932.9 749.7h0M973.3 670.7h0M965.1 731.4h0M1035.2 659.0h0M981.1 750.8h0M981.0 692.2h0M972.7 776.7h0M961.2 704.6h0M917.8 721.4h0M912.7 765.5h0M1005.6 725.0h0M1020.1 705.8h0M977.0 746.4h0M946.4 776.2h0M893.2 718.7h0M897.4 726.2h0M989.7 692.8h0M977.3 777.6h0M956.7 686.4h0M994.2 724.7h0M934.9 770.1h0M1001.6 709.0h0M1020.8 750.4h0M1005.4 751.7h0M1021.3 679.1h0M979.9 752.4h0M929.0 753.2h0M993.2 658.9h0M975.2 659.0h0M1041.8 670.2h0M904.5 739.9h0M1016.1 712.4h0M1039.5 693.6h0M932.8 745.0h0M995.8 733.0h0M1032.3 655.4h0M994.3 738.6h0M1008.8 682.3h0M1014.5 652.8h0M934.3 778.6h0M992.0 679.9h0M911.0 747.7h0M953.2 727.8h0M910.6 748.3h0M921.7 755.7h0M1012.4 718.2h0M981.2 759.2h0M980.5 756.2h0M991.9 748.2h0M938.0 712.8h0M946.0 748.8h0M911.3 773.2h0M945.3 728.2h0M914.5 736.0h0M979.7 697.4h0M1023.3 721.1h0M999.4 648.4h0M918.5 778.9h0M903.2 744.2h0M1008.1 698.8h0M941.7 741.5h0M999.3 759.8h0M927.1 748.8h0M1002.1 717.3h0M993.0 744.8h0M962.4 695.4h0M1041.7 698.6h0M1019.4 658.9h0M966.4 713.0h0M942.9 701.4h0M946.4 758.9h0M911.4 784.7h0M907.7 762.1h0M967.0 700.5h0M923.4 782.3h0M983.3 678.6h0M1015.5 726.3h0M914.1 740.9h0M1033.0 702.8h0M956.4 708.0h0M1038.7 667.3h0M1023.8 686.5h0M884.8 717.4h0M942.8 782.1h0M1010.0 645.9h0M905.4 752.2h0M992.9 664.0h0M963.7 704.4h0M962.3 749.4h0M1034.4 686.3h0M978.6 658.7h0M1004.0 764.3h0M904.4 781.5h0M914.8 749.6h0M978.8 737.8h0M1040.3 673.6h0M964.3 728.5h0M1032.9 721.4h0M927.4 783.5h0M1038.0 695.5h0M936.5 756.9h0M937.4 762.8h0M998.8 698.8h0M965.7 686.0h0M1006.9 734.4h0M943.3 763.9h0M926.2 774.7h0M1047.4 682.0h0M1008.8 717.0h0M936.9 745.3h0M920.6 775.4h0M986.9 682.3h0M928.7 775.5h0M942.0 725.3h0M975.2 746.4h0M967.6 762.3h0M888.5 723.8h0M993.1 759.8h0M985.5 770.1h0M1014.3 691.0h0M982.6 754.7h0M942.8 770.5h0M953.6 775.3h0M988.1 776.1h0M1016.0 691.1h0M1013.5 676.6h0M1022.6 686.3h0M889.8 725.4h0M964.7 655.3h0M941.7 739.2h0M1026.7 693.4h0M1013.1 730.1h0M886.8 707.0h0M1028.0 685.9h0M961.2 738.0h0M965.8 670.6h0M987.8 732.6h0M937.4 752.3h0M945.2 736.3h0M1010.1 654.5h0M1033.8 667.2h0M967.8 763.4h0M902.3 784.7h0M1018.2 656.3h0M1000.7 749.7h0M967.4 773.5h0M988.8 708.2h0M1013.7 752.8h0M989.4 658.5h0M947.8 696.4h0M1030.9 673.8h0M956.9 697.6h0M1015.2 756.0h0M975.0 711.5h0M1020.6 709.7h0M944.3 713.6h0M927.0 761.4h0M931.7 770.2h0M906.7 737.3h0M981.9 649.8h0M982.6 659.2h0M982.7 707.3h0M970.5 665.9h0M981.4 681.7h0M977.8 643.7h0M900.9 779.7h0M1021.0 707.3h0M1029.8 680.7h0M1020.1 662.8h0M986.2 710.3h0M971.0 734.5h0M993.4 666.8h0M911.6 719.8h0M956.8 716.1h0M952.4 734.8h0M979.2 736.2h0M983.0 744.0h0M899.7 720.3h0M926.0 779.6h0M988.2 763.3h0M972.5 758.4h0M985.3 763.2h0M905.2 758.3h0M976.6 656.4h0M918.2 746.1h0M1003.2 735.0h0M1021.8 670.2h0M1004.1 767.6h0M1000.0 746.6h0M909.8 774.4h0M1011.8 706.5h0M1019.3 751.6h0M1040.4 667.4h0M963.6 689.1h0M978.1 710.2h0M1023.1 656.7h0M1030.1 722.5h0M964.6 676.6h0M989.1 731.5h0M942.7 731.8h0M1024.4 714.9h0M1008.5 691.4h0M966.4 722.6h0M1026.6 673.8h0M960.2 662.2h0M968.1 721.0h0M914.4 727.3h0M980.0 714.0h0M987.3 695.3h0M980.6 700.6h0M1003.7 703.4h0M903.4 735.3h0M952.8 774.8h0M1000.3 729.3h0M918.1 766.3h0M977.3 728.8h0M1020.1 671.9h0M955.0 669.5h0M1009.4 748.6h0M1011.0 680.6h0M976.2 711.8h0M1020.4 651.1h0M959.7 720.3h0M1002.7 646.4h0M914.2 783.4h0M984.0 701.4h0M1021.5 745.0h0M1043.1 674.7h0M991.6 645.1h0M978.7 727.1h0M898.1 710.7h0M996.5 684.6h0M1009.3 676.3h0M977.9 770.5h0M1045.7 673.3h0M954.3 710.2h0M934.8 724.1h0M969.0 720.7h0M948.8 728.0h0M957.1 747.8h0M909.6 768.9h0M968.8 772.5h0M984.3 750.4h0M952.2 746.2h0M1018.8 668.6h0M956.7 673.6h0M902.8 779.9h0M1005.7 694.5h0M923.8 775.3h0M892.8 727.9h0M1023.2 673.6h0M954.8 710.9h0M949.4 690.5h0M946.9 717.2h0M1027.5 714.5h0M1020.4 743.9h0M969.0 749.2h0M1008.4 764.8h0M962.0 746.7h0M1015.5 721.8h0M952.8 777.9h0M1003.2 665.8h0M1002.5 680.7h0M1033.0 679.7h0M1039.3 658.7h0M1028.6 686.6h0M1023.6 716.0h0M978.6 756.3h0M958.5 683.6h0M967.7 725.4h0M1016.8 663.2h0M1000.9 776.5h0M963.2 736.3h0M952.6 775.1h0M989.3 724.1h0M910.9 737.6h0M994.3 722.1h0M967.5 661.2h0M936.7 734.7h0M1021.9 667.2h0M999.9 743.3h0M925.2 719.2h0M1013.2 657.3h0M932.6 783.1h0M992.2 753.2h0M999.6 756.7h0M978.1 777.8h0M954.1 744.3h0M956.6 712.6h0M937.9 720.6h0M1049.4 678.3h0M943.3 771.7h0M942.3 705.1h0M950.1 719.7h0M1011.0 684.7h0M1015.2 742.7h0M1033.9 691.6h0M969.0 660.3h0M1005.0 743.1h0M1026.1 728.5h0M974.3 766.7h0M934.1 783.1h0M1030.5 686.8h0M976.0 687.3h0M1003.1 720.1h0M1016.1 735.5h0M978.5 649.1h0M892.3 707.2h0M914.8 754.8h0M913.4 720.1h0M1005.7 673.3h0M1031.4 669.7h0M991.1 687.8h0M958.8 687.9h0M1035.8 679.3h0M928.7 750.8h0M960.4 758.4h0M975.3 662.5h0M965.4 693.2h0M985.7 666.5h0M1002.5 741.6h0M1032.3 711.3h0M959.0 755.5h0M1003.0 756.6h0M955.0 682.9h0M1019.8 702.5h0M1016.2 749.2h0M898.6 742.0h0M1014.3 681.7h0M977.9 675.4h0M968.3 778.2h0M1004.7 681.0h0M1005.1 689.4h0M1019.8 649.6h0M974.8 650.7h0M1018.4 748.8h0M963.8 720.0h0M917.4 750.7h0M961.5 769.7h0M888.2 719.2h0M973.5 672.1h0M1016.6 721.8h0M928.7 747.6h0M1005.3 650.0h0M993.4 753.4h0M945.1 754.1h0M988.0 730.5h0M907.5 782.3h0M1031.6 710.9h0M997.7 747.8h0M969.3 751.0h0M958.2 762.6h0M989.9 777.5h0M972.8 701.0h0M968.6 703.5h0M972.0 693.2h0M1035.2 698.9h0M959.6 697.9h0M989.1 679.1h0M927.5 737.5h0M1013.2 648.5h0M994.4 767.6h0M911.9 772.4h0M954.1 676.6h0M953.7 744.2h0M955.4 760.5h0M944.7 716.7h0M950.5 748.3h0M897.4 732.1h0M954.2 680.8h0M921.3 723.5h0M961.8 661.7h0M979.0 766.8h0M976.1 695.2h0M933.4 741.3h0M1012.6 691.4h0M1029.6 694.2h0M981.8 666.1h0M973.8 675.7h0M994.7 762.6h0M887.4 717.1h0M1036.7 673.0h0M905.6 769.6h0M1001.8 647.5h0M941.6 701.5h0M1031.1 708.5h0M966.5 741.1h0M1034.7 682.5h0M1000.6 755.7h0M958.6 768.9h0M916.3 758.5h0M941.4 778.8h0M984.4 757.5h0M982.2 737.7h0M945.3 722.7h0M966.5 687.3h0M936.6 773.0h0M1021.4 667.9h0M963.0 666.1h0M941.1 780.5h0M901.6 722.7h0M958.5 778.4h0M1022.2 704.4h0M954.8 719.3h0M918.1 762.6h0M937.0 710.7h0M988.7 747.4h0M933.4 731.4h0M981.8 751.4h0M917.5 735.9h0M996.4 762.8h0M1006.3 677.9h0M995.3 664.0h0M1007.4 727.0h0M959.3 704.6h0M988.7 733.2h0M994.6 654.0h0M994.9 718.9h0M909.9 716.0h0M978.2 723.1h0M1002.3 684.1h0M979.7 651.8h0M961.8 764.0h0M928.8 766.0h0M928.6 718.2h0M945.9 700.4h0M936.7 729.6h0M967.0 745.6h0M949.1 728.3h0M1045.0 664.1h0M948.1 715.3h0M908.7 772.1h0M978.9 664.8h0M1025.8 707.6h0M1020.6 679.7h0M953.8 707.5h0M994.4 776.9h0M1018.4 681.4h0M933.4 773.9h0M989.4 739.2h0M965.2 775.4h0M989.7 719.4h0M944.4 733.4h0M948.4 691.1h0M995.9 660.8h0M965.2 756.7h0M1031.4 660.0h0M949.1 741.8h0M926.6 730.8h0M1028.5 703.6h0M1002.6 708.0h0M1019.4 697.7h0M1029.9 690.0h0M916.0 758.4h0M1015.7 673.9h0M993.1 684.1h0M979.4 669.3h0M931.1 763.8h0M1036.6 704.2h0M915.3 763.4h0M1042.0 687.6h0M997.4 768.2h0M990.5 777.4h0M971.3 683.3h0M972.1 772.1h0M927.4 744.1h0M970.0 670.8h0M934.1 769.7h0M954.6 774.5h0M1024.1 684.4h0M1006.1 731.9h0M948.8 760.9h0M902.1 707.8h0M1022.9 676.2h0M1013.9 764.7h0M950.7 696.5h0M985.8 699.7h0M991.8 745.6h0M990.0 752.9h0M1023.6 692.7h0M1006.5 755.3h0M926.8 756.8h0M939.0 710.6h0M1000.5 667.7h0M964.6 746.0h0M928.2 777.1h0M1024.4 660.9h0M1020.0 744.9h0M1017.5 759.7h0M1011.1 752.4h0M1013.5 664.9h0M1046.4 682.1h0M942.7 731.0h0M947.6 767.8h0M1002.4 691.8h0M1022.9 650.2h0M1014.7 648.6h0M958.4 682.8h0M992.9 739.9h0M920.5 740.5h0M962.2 730.4h0M990.1 663.5h0M899.1 715.2h0M939.8 754.6h0M1010.2 765.2h0M956.5 719.9h0M890.7 731.9h0M964.8 762.2h0M896.5 718.5h0M1024.2 709.6h0M900.2 717.0h0M1035.6 675.8h0M1030.1 696.7h0M920.2 732.1h0M945.0 708.6h0M1001.4 726.4h0M938.9 765.1h0M932.0 744.4h0M939.3 725.2h0M980.6 688.0h0M988.0 758.8h0M941.4 764.8h0M977.3 682.8h0M969.1 656.3h0M946.0 743.4h0M984.8 753.7h0M1018.6 731.0h0M907.1 771.3h0M1003.9 697.9h0M901.5 711.8h0M886.8 726.5h0M971.6 695.2h0M1009.5 714.6h0M893.6 725.5h0M937.5 712.3h0M1030.6 694.1h0M1006.2 729.6h0M1012.3 647.8h0M1024.7 680.8h0M961.6 743.7h0M958.1 727.9h0M930.3 741.2h0M902.7 737.2h0M953.8 705.3h0M980.5 736.2h0M963.7 679.3h0M939.0 727.7h0M910.5 743.3h0M973.8 750.0h0M912.0 739.1h0M988.3 763.3h0M988.0 648.8h0M986.4 738.2h0M1033.7 668.7h0M1005.4 716.7h0M994.6 681.2h0M1026.4 720.2h0M886.0 705.5h0M996.7 747.3h0M1031.4 686.2h0M1023.9 666.7h0M977.8 731.2h0M986.8 648.2h0M990.7 697.5h0M943.6 750.7h0M1036.1 665.8h0M1029.0 653.2h0M981.7 711.0h0M987.9 723.5h0M955.0 717.8h0M994.4 764.5h0M910.3 709.4h0M959.5 684.1h0M1010.2 769.0h0M982.0 740.1h0M1006.3 698.9h0M965.7 660.5h0M1014.0 663.7h0M953.6 760.2h0M901.4 784.2h0M903.3 734.7h0M1035.5 659.1h0M906.6 758.6h0M947.8 784.4h0M993.9 716.6h0M1026.1 727.2h0M937.6 764.6h0M1020.5 714.5h0M937.8 729.7h0M947.1 762.1h0M981.4 746.4h0M937.2 769.1h0M973.5 691.4h0M932.1 775.6h0M970.9 766.3h0M977.9 703.2h0M947.8 748.7h0M945.8 773.1h0M1004.4 745.3h0M1027.2 655.8h0M988.3 690.8h0M891.6 708.1h0M1042.6 679.7h0M1018.5 729.6h0M1006.5 725.6h0M914.9 730.9h0M988.4 746.2h0M918.9 728.1h0M985.0 682.6h0M994.2 643.2h0M984.9 760.9h0M922.9 751.0h0M1001.0 775.6h0M963.6 697.1h0M988.7 730.0h0M981.6 731.9h0M1004.3 729.0h0M909.6 720.2h0M978.8 674.7h0M956.8 748.5h0M998.1 660.3h0M1021.2 692.5h0M930.9 733.7h0M1014.2 701.1h0M958.3 759.2h0M1014.5 762.5h0M986.2 741.9h0M1010.5 759.0h0M995.8 666.9h0M957.6 673.0h0M982.6 718.6h0M925.9 749.8h0M978.6 679.9h0M910.3 766.4h0M972.5 735.2h0M1006.8 712.7h0M983.7 667.7h0M920.0 750.3h0M938.7 761.0h0M1001.1 657.2h0M982.7 660.1h0M937.7 722.1h0M998.0 712.0h0M964.0 711.0h0M904.1 771.9h0M956.8 733.3h0M999.5 652.9h0M980.9 762.3h0M987.7 672.9h0M937.5 731.7h0M997.0 646.9h0M896.8 721.3h0M984.7 690.2h0M1028.5 733.4h0M983.1 692.1h0M952.7 693.4h0M1004.0 729.8h0M1009.8 673.3h0M1013.7 654.2h0M1001.8 721.3h0M965.2 718.9h0M922.3 735.2h0M1013.4 711.9h0M965.4 765.8h0M941.1 774.1h0M1011.8 753.9h0M1014.9 740.2h0M913.5 760.7h0M927.1 718.0h0M993.5 703.3h0M962.2 669.9h0M1028.6 715.5h0M998.2 710.3h0M918.6 713.3h0M946.1 709.6h0M1001.7 671.2h0M931.9 778.6h0M1017.3 736.4h0M943.5 721.4h0M1011.5 644.1h0M1008.9 663.9h0M998.4 687.0h0M1038.5 694.4h0M1021.8 685.1h0M973.6 687.5h0M909.0 725.2h0M984.3 771.5h0M948.7 729.5h0M937.2 733.2h0M979.9 703.4h0M966.6 756.1h0M967.3 680.3h0M939.7 764.6h0M1027.8 687.8h0M978.0 673.9h0M978.8 723.5h0M997.6 730.0h0M991.8 734.3h0M983.6 695.2h0M1021.8 681.7h0M1030.6 674.5h0M983.7 661.8h0M958.6 723.9h0M959.5 714.0h0M943.0 735.3h0M1039.1 677.7h0M965.8 702.9h0M969.3 652.4h0M994.0 771.9h0M927.1 721.6h0M955.7 724.0h0M985.9 746.4h0M972.4 768.0h0M950.7 698.9h0M995.2 679.8h0M1046.4 666.7h0M1030.4 688.2h0M1025.4 697.2h0M953.9 731.8h0M997.6 701.0h0M913.1 769.7h0M973.6 663.1h0M960.4 751.6h0M1007.5 757.1h0M920.5 744.0h0M934.8 751.6h0M923.0 779.4h0M943.4 757.3h0M902.1 749.2h0M958.7 705.0h0M1025.3 722.2h0M999.0 700.7h0M981.0 776.7h0M931.0 710.4h0M1024.8 733.1h0M981.4 680.7h0M940.5 713.3h0M972.5 720.8h0M1028.1 655.0h0M996.6 644.8h0M1020.2 722.1h0M912.4 756.9h0M997.4 692.2h0M964.1 687.8h0M991.2 747.0h0M918.1 775.3h0M1026.9 740.4h0M903.0 780.7h0M983.3 696.9h0M1022.3 650.4h0M1009.4 690.0h0M907.6 734.1h0M938.2 706.4h0M931.8 721.1h0M998.8 652.0h0M967.3 660.1h0M922.1 747.1h0M988.5 684.8h0M1028.9 705.3h0M923.4 740.3h0M927.1 736.0h0M955.8 767.3h0M1042.4 692.0h0M985.9 758.9h0M1008.3 701.0h0M977.4 666.6h0M937.2 759.0h0M1003.7 690.0h0M992.7 647.2h0M950.5 772.3h0M912.8 739.5h0M931.1 776.1h0M954.1 727.5h0M960.9 730.4h0M992.8 699.8h0M1017.4 697.9h0M981.1 654.3h0M935.6 749.4h0M961.1 685.1h0M915.3 768.2h0M919.7 718.9h0M995.6 699.1h0M913.4 722.3h0M985.8 711.1h0M918.7 716.9h0M993.1 710.5h0M920.1 768.6h0M966.8 665.8h0M1030.5 671.5h0M1020.5 740.4h0M1025.9 711.7h0M945.0 699.8h0M1013.0 651.8h0M1008.0 742.7h0M1043.1 696.3h0M1024.1 690.9h0M998.8 716.6h0M996.3 773.2h0M986.8 701.0h0M986.1 693.7h0M994.9 671.6h0M917.8 742.8h0M977.8 669.1h0M937.0 766.0h0M968.6 728.3h0M907.7 712.9h0M1022.0 698.5h0M954.9 768.1h0M984.1 733.8h0M989.8 687.4h0M934.7 771.1h0M948.5 680.9h0M909.7 771.5h0M1014.3 732.7h0M1000.3 644.5h0M986.6 709.3h0M985.7 720.8h0M1010.1 675.6h0M882.9 711.1h0M976.7 757.0h0M913.2 716.5h0M944.2 760.9h0M997.3 745.3h0M956.9 667.8h0M992.7 712.6h0M955.9 695.4h0M899.7 710.8h0M909.0 754.4h0M1038.0 661.7h0M971.1 654.0h0M982.4 650.0h0M951.3 767.4h0M966.4 711.4h0M979.1 686.3h0M987.3 767.4h0M967.4 695.4h0M1020.3 719.0h0M959.2 741.3h0M951.0 755.9h0M986.5 688.7h0M1000.0 772.4h0M977.4 702.7h0M968.1 730.3h0M918.7 785.9h0M964.4 758.1h0M941.6 725.3h0M980.5 704.3h0M1043.9 675.4h0M943.5 731.0h0M1007.4 722.6h0M919.4 782.3h0M908.7 726.5h0M1006.8 672.6h0M990.2 704.9h0M976.5 716.9h0M986.3 694.3h0M983.7 734.5h0M962.2 756.3h0M990.6 715.3h0M1032.0 721.2h0M1007.4 681.6h0M974.7 719.5h0M941.5 731.2h0M1042.0 680.2h0M1030.3 703.5h0M890.7 718.7h0M901.2 729.5h0M951.5 726.1h0M992.6 662.3h0M902.3 766.6h0M989.8 704.2h0M1000.0 763.9h0M975.1 728.5h0M1022.9 711.4h0M928.5 727.0h0M990.0 757.1h0M925.7 735.4h0M1000.9 765.1h0M940.8 780.6h0M920.6 735.8h0M973.7 760.4h0M1021.8 736.2h0M1024.6 707.8h0M936.6 725.9h0M1035.0 681.2h0M967.0 736.4h0M1048.3 674.1h0M1004.0 659.3h0M951.3 778.5h0M1002.6 767.2h0M1037.9 671.6h0M919.1 760.6h0M1014.3 655.1h0M995.7 679.2h0M916.1 775.3h0M906.9 778.1h0M961.8 716.7h0M923.3 738.7h0M1019.0 727.9h0M994.3 754.5h0M900.7 780.3h0M1000.5 749.7h0M907.6 758.0h0M941.2 736.0h0M964.8 732.9h0M902.7 753.1h0M939.4 773.7h0M973.9 680.4h0M905.8 727.1h0M914.5 770.8h0M938.1 752.8h0M969.6 678.1h0M925.6 768.6h0M973.3 781.2h0M1015.9 693.3h0M1007.4 666.7h0M974.1 731.1h0M909.9 751.9h0M978.1 730.1h0M1001.2 674.6h0M947.7 740.9h0M998.8 657.6h0M972.0 734.6h0M970.1 705.8h0M916.6 727.4h0M907.2 774.5h0M973.1 657.2h0M998.1 706.5h0M907.7 783.6h0M998.0 730.9h0M970.7 770.5h0M1025.3 737.6h0M1009.9 659.9h0M938.2 738.5h0M1005.3 757.7h0M1000.3 768.1h0M1015.8 698.0h0M947.0 688.1h0M910.4 760.4h0M1033.3 721.3h0M903.0 759.6h0M1006.6 646.9h0M1004.7 732.3h0M982.1 778.4h0M950.4 768.4h0M969.2 716.7h0M957.8 720.5h0M985.3 752.6h0M935.7 720.1h0M956.7 666.3h0M920.2 745.7h0M1012.0 723.3h0M972.6 743.5h0M1018.8 732.7h0M997.9 768.0h0M963.6 660.8h0M1021.9 726.6h0M1011.5 714.4h0M1026.9 678.3h0M969.1 729.8h0M1023.5 740.1h0M958.3 689.6h0M1013.7 759.7h0M901.0 752.6h0M1015.4 689.9h0M968.6 677.8h0M1016.8 745.9h0M968.5 773.0h0M930.1 768.9h0M951.5 772.4h0M897.4 737.6h0M977.2 698.4h0M1034.9 691.2h0M929.9 772.3h0M955.5 683.6h0M1037.5 678.9h0M991.6 694.1h0M946.8 702.8h0M952.5 714.4h0M955.2 680.1h0M911.3 770.0h0M992.5 755.4h0M939.5 774.8h0M922.2 761.8h0M1030.4 671.2h0M962.9 668.8h0M901.3 769.1h0M984.8 689.7h0M978.8 775.6h0M1021.8 659.8h0M910.3 764.9h0M1027.6 702.6h0M985.5 753.3h0M1019.6 677.9h0M944.4 698.4h0M1031.6 725.2h0M933.6 760.3h0M974.6 771.7h0M910.9 720.2h0M1001.4 652.1h0M991.6 696.3h0M989.9 721.4h0M911.9 716.7h0M954.2 747.8h0M1024.8 738.1h0M971.8 763.4h0M995.2 751.0h0M960.7 666.6h0M1010.8 700.3h0M939.3 705.1h0M974.4 679.6h0M1038.5 698.0h0M929.9 750.1h0M972.6 701.4h0M914.6 766.0h0M937.3 741.0h0M959.5 781.3h0M956.3 772.7h0M948.7 692.3h0M952.5 681.1h0M998.3 672.4h0M1029.6 730.0h0M960.5 737.6h0M931.9 734.5h0M923.1 777.6h0M960.0 696.4h0M995.9 730.5h0M992.6 714.4h0M1009.0 713.9h0M976.8 704.0h0M898.1 708.4h0M888.4 719.1h0M1021.6 730.7h0M1015.5 696.3h0M1013.6 763.7h0M914.0 760.4h0M978.0 700.8h0M1032.0 698.3h0M937.3 721.3h0M969.4 656.6h0M1008.2 750.8h0M1016.9 709.7h0M1004.2 706.2h0M1010.7 686.0h0M906.0 753.3h0M1007.0 748.9h0M1007.5 698.6h0M899.1 774.1h0M975.0 695.2h0M993.5 728.1h0M982.8 759.5h0M1004.5 677.1h0M965.8 773.5h0M1031.7 662.7h0M992.7 777.6h0M999.3 709.0h0M973.0 678.3h0M997.3 724.4h0M941.6 717.1h0M978.6 719.4h0M1004.9 657.0h0M1004.2 684.9h0M944.2 728.0h0M949.7 721.2h0M996.7 736.9h0M995.7 695.7h0M1022.5 724.3h0M908.8 765.2h0M923.4 776.0h0M1004.2 754.6h0M967.5 762.4h0M1042.7 678.0h0M1008.1 654.5h0M1015.3 708.7h0M933.9 763.0h0M957.9 780.6h0M988.6 738.8h0M955.4 768.9h0M998.3 655.8h0M966.1 692.8h0M952.1 702.9h0M998.6 711.0h0M1038.8 690.9h0M945.9 699.4h0M984.6 778.6h0M997.2 652.6h0M927.5 729.1h0M956.5 735.0h0M1019.1 739.6h0M1009.8 712.5h0M1018.1 653.9h0M962.7 708.1h0M970.9 771.1h0M1015.3 681.4h0M1027.8 737.6h0M920.6 751.3h0M964.4 776.8h0M923.5 778.1h0M957.6 667.5h0M955.3 687.6h0M998.8 744.2h0M996.7 666.8h0M1015.3 761.8h0M1033.2 722.8h0M1023.4 692.9h0M950.2 737.1h0M936.5 739.8h0M909.8 747.3h0M930.5 764.8h0M932.6 773.6h0M932.3 737.3h0M996.5 644.2h0M943.7 766.1h0M973.0 653.0h0M966.0 744.7h0M996.5 709.5h0M1007.4 719.0h0M963.5 704.3h0M1009.3 705.8h0M1004.2 684.1h0M1010.8 721.1h0M971.3 677.4h0M977.9 661.7h0M987.4 731.9h0M927.3 738.8h0M974.9 661.7h0M964.0 670.8h0M1008.3 696.3h0M917.3 736.5h0M1013.4 710.3h0M984.1 669.2h0M1010.3 663.5h0M984.8 653.5h0M951.9 772.7h0M985.3 672.6h0M971.4 660.8h0M918.2 741.9h0M1021.9 657.2h0M969.1 682.4h0M970.0 712.9h0M943.2 751.5h0M973.5 671.7h0M961.6 725.3h0M950.2 701.0h0M961.4 755.8h0M954.8 730.0h0M1031.8 698.7h0M1044.8 674.7h0M920.7 727.1h0M997.6 643.5h0M1015.2 740.7h0M985.6 725.6h0M916.8 780.0h0M1015.4 750.1h0M981.0 656.5h0M921.1 722.9h0M1031.5 721.1h0M979.7 746.4h0M948.6 707.5h0M1026.2 677.5h0M983.8 763.1h0M989.2 664.0h0M1025.0 700.0h0M995.9 763.3h0M983.8 760.0h0M982.5 752.9h0M959.2 697.9h0M948.8 704.1h0M936.5 750.7h0M973.6 766.4h0M956.3 781.1h0M909.7 780.3h0M974.1 745.3h0M1028.8 721.6h0M984.8 748.2h0M896.5 730.2h0M956.8 729.6h0M997.9 717.4h0M1017.5 658.5h0M1009.8 692.2h0M980.7 742.8h0M950.5 693.8h0M984.0 753.4h0M936.1 708.1h0M986.4 751.0h0M982.4 645.1h0M980.3 708.7h0M1036.4 702.9h0M952.4 770.5h0M989.4 764.9h0M1026.1 676.6h0M888.9 712.3h0M958.5 718.7h0M992.5 652.7h0M916.5 734.1h0M991.1 669.3h0M1017.0 676.9h0M949.5 749.2h0M934.4 746.2h0M910.7 732.4h0M964.2 737.2h0M1013.6 700.1h0M912.4 732.6h0M951.5 764.0h0M989.7 676.5h0M1015.5 756.9h0M989.4 753.8h0M958.3 764.2h0M1018.4 695.5h0M909.2 765.7h0M986.8 699.4h0M962.3 741.5h0M1038.1 683.2h0M1011.8 703.7h0M1003.5 648.5h0M926.1 747.3h0M987.6 695.9h0M927.9 733.2h0M919.4 730.0h0M988.2 706.7h0M963.8 723.8h0M981.3 697.9h0M961.4 735.6h0M963.3 759.1h0M998.7 737.5h0M926.2 757.6h0M1027.5 737.8h0M1011.4 647.9h0M1015.4 689.7h0M939.9 761.3h0M958.7 681.2h0M1013.6 704.2h0M1002.3 714.0h0M1019.3 737.3h0M988.5 698.9h0M999.5 688.8h0M933.4 735.8h0M960.3 733.4h0M1000.5 724.3h0M977.6 708.4h0M974.9 761.7h0M1014.5 668.4h0M928.9 715.0h0M942.6 759.8h0M1037.8 668.6h0M898.3 777.1h0M1015.9 724.1h0M1007.1 680.5h0M924.0 717.2h0M1008.5 754.3h0M955.7 737.4h0M993.5 756.0h0M912.9 768.3h0M952.8 763.1h0M992.1 665.6h0M965.1 660.6h0M958.0 778.5h0M1030.0 706.1h0M971.4 715.6h0M1004.5 701.7h0M990.0 668.7h0M1026.6 667.5h0M916.3 740.1h0M937.6 763.4h0M985.7 660.4h0M900.3 725.7h0M979.5 654.1h0M958.1 752.4h0M956.8 726.9h0M969.8 685.3h0M1039.9 684.7h0M1002.0 695.3h0M902.1 744.7h0M966.9 697.2h0M1014.5 660.7h0M1009.0 756.4h0M971.3 722.5h0M944.1 730.9h0M1033.9 670.2h0M1014.8 748.0h0M1005.5 691.0h0M940.0 734.9h0M992.3 682.3h0M992.1 693.3h0M952.7 699.2h0M1045.6 679.3h0M986.9 769.7h0M979.2 747.2h0M992.0 707.8h0M974.3 725.6h0M991.2 664.7h0M955.2 748.4h0M1021.9 698.3h0M1010.1 738.3h0M1003.4 717.4h0M1004.4 696.5h0M992.2 680.3h0M1011.5 664.0h0M1017.7 742.1h0M967.7 661.7h0M1013.9 758.6h0M966.2 760.0h0M953.8 738.2h0M1020.5 656.0h0M967.8 685.4h0M996.9 732.4h0M977.6 661.9h0M1035.3 698.3h0M967.7 731.0h0M1006.0 722.7h0M1028.8 730.2h0M998.9 658.9h0M961.0 681.4h0M1042.9 672.7h0M1027.6 711.1h0M980.9 689.6h0M967.7 742.1h0M975.2 776.0h0M962.8 691.7h0M1013.0 702.4h0M962.3 700.3h0M992.3 744.5h0M1017.9 706.9h0M979.5 758.5h0M994.3 756.6h0M970.8 686.4h0M987.9 722.1h0M986.4 692.5h0M1008.8 686.5h0M1000.4 678.8h0M945.0 763.9h0M1036.0 684.9h0M988.7 657.9h0M962.2 770.8h0M1027.3 689.9h0M984.5 713.4h0M988.6 717.1h0M1028.7 695.4h0M976.5 670.4h0M972.8 717.3h0M1021.6 675.0h0M982.2 695.7h0M962.9 669.1h0M986.0 742.3h0M1038.0 664.9h0M978.3 707.5h0M987.8 758.6h0M965.4 669.0h0M1003.0 664.2h0M971.2 654.6h0M1009.7 753.9h0M1013.3 755.0h0M977.3 740.2h0M1003.1 653.7h0M1027.9 657.7h0M1017.5 721.3h0M952.6 743.0h0M1042.8 683.8h0M1015.0 732.4h0M958.6 737.8h0M998.0 751.1h0M1003.1 663.3h0M949.5 727.5h0M955.7 717.9h0M1015.7 697.7h0M1009.7 667.4h0M994.4 673.1h0M997.0 668.5h0M966.7 763.8h0M980.5 718.1h0M974.3 748.8h0M984.4 751.1h0M983.9 700.8h0M963.2 743.2h0M1016.2 673.8h0M1014.8 724.2h0M1017.6 663.1h0M982.0 712.0h0M1008.4 705.6h0M949.5 715.6h0M944.0 748.6h0M966.5 672.1h0M953.9 724.6h0M1006.8 658.2h0M973.2 681.7h0M1002.6 674.3h0M1004.6 750.6h0M963.0 738.9h0M953.5 734.8h0M950.6 757.1h0M965.3 657.2h0M959.6 758.1h0M999.5 695.1h0M958.5 772.4h0M1028.0 666.2h0M1017.4 687.3h0M1032.1 706.5h0M961.0 696.4h0M999.7 768.2h0M964.3 762.9h0M992.2 648.6h0M971.4 683.3h0M972.7 704.9h0M1019.3 694.4h0M1032.4 670.3h0M951.9 769.5h0M1018.5 728.0h0M956.0 717.0h0M973.7 692.4h0M989.9 747.8h0M987.3 653.2h0M975.3 649.4h0M960.4 675.0h0M989.9 671.7h0M963.1 710.4h0M988.8 724.0h0M979.7 649.5h0M964.5 718.4h0M1004.1 676.9h0M957.1 766.4h0M960.7 710.1h0M1011.0 693.7h0M1000.0 705.2h0M980.5 654.8h0M1010.1 732.4h0M997.5 650.6h0M967.8 714.0h0M983.3 685.0h0M1020.3 704.9h0M966.0 769.5h0M956.2 764.1h0M1040.4 668.8h0M956.4 735.2h0M964.9 725.9h0M1032.2 717.7h0M1033.5 673.0h0M997.0 729.3h0M969.7 734.4h0M954.5 701.4h0M962.6 706.0h0M993.5 656.0h0M976.2 742.9h0M994.9 719.4h0M1015.3 693.9h0M1016.6 751.2h0M974.6 761.9h0M972.5 662.2h0M956.8 702.1h0M988.8 701.1h0M1005.4 682.4h0M1005.5 733.9h0M966.1 745.2h0M987.6 673.0h0M992.0 746.9h0M958.2 687.1h0M1023.5 653.2h0M991.0 687.6h0M1024.0 703.4h0M980.1 661.9h0M952.1 761.7h0M1017.8 718.0h0M964.7 675.8h0M970.0 681.2h0M1028.6 681.9h0M991.9 699.5h0M1017.6 682.5h0M946.7 761.7h0M981.5 771.4h0M962.0 734.9h0M968.0 709.6h0M1032.3 685.4h0M994.4 657.6h0M986.3 646.7h0M974.8 657.2h0M970.9 674.7h0M982.7 755.2h0M1021.2 669.7h0M1005.8 757.6h0M961.0 734.3h0M990.8 731.0h0M1014.2 680.0h0M1029.5 693.3h0M984.5 689.3h0M1009.4 756.0h0M1028.7 665.0h0M995.8 676.5h0M966.8 706.9h0M1022.6 689.0h0M1034.8 667.3h0M1005.7 745.0h0M1014.4 663.2h0M1016.9 656.9h0M963.7 756.7h0M980.0 738.6h0M983.6 677.2h0M978.0 720.8h0M1008.7 673.6h0M1013.3 666.3h0M1011.1 738.8h0M994.5 705.8h0M1002.3 729.9h0M966.4 704.4h0M967.2 701.0h0M1024.8 718.4h0M1020.7 682.9h0M965.8 731.9h0M967.6 740.0h0M978.7 754.1h0M1003.3 717.2h0M999.5 753.8h0M976.8 683.2h0M985.1 763.7h0M985.7 738.1h0M965.0 712.6h0M1019.0 713.4h0M1006.4 708.8h0M954.2 759.8h0M979.5 662.2h0M1023.7 662.2h0M1021.1 740.1h0M1018.8 752.7h0M967.5 716.9h0M970.4 702.3h0M983.9 658.7h0M953.6 708.4h0M994.4 664.4h0M958.9 762.2h0M955.6 684.1h0M1015.4 678.2h0M998.0 747.0h0M1004.2 656.2h0M994.4 729.3h0M1015.3 751.9h0M1022.8 666.9h0M974.3 741.8h0M968.5 754.2h0M1026.7 723.3h0M946.3 736.2h0M976.6 700.9h0M970.6 678.5h0M1023.3 739.2h0M1022.0 740.7h0M998.1 688.8h0M990.4 690.8h0M959.8 720.3h0M990.9 762.8h0M1015.7 719.8h0M995.6 712.3h0M968.6 721.3h0M1001.1 653.7h0M967.9 690.2h0M979.3 763.1h0M987.2 726.8h0M1010.9 736.7h0M972.6 756.7h0M1022.8 728.6h0M994.3 709.1h0M996.7 724.7h0M985.9 764.7h0M1037.3 701.6h0M976.8 766.3h0M983.3 747.9h0M992.0 652.1h0M1005.9 735.1h0M1016.4 727.4h0M955.4 732.1h0M959.4 700.7h0M976.0 675.6h0M1015.6 678.5h0M977.3 711.9h0M969.6 748.0h0M1008.2 717.7h0M994.8 712.2h0M964.2 716.4h0M986.9 765.2h0M986.5 756.8h0M986.3 668.9h0M995.6 673.7h0M958.4 679.9h0M975.9 748.9h0M967.5 727.4h0M1015.4 758.5h0M1002.1 761.0h0M1023.3 745.9h0M950.8 705.6h0M1039.0 689.8h0M973.3 750.9h0M997.9 713.5h0M1006.0 664.2h0M983.6 720.0h0M984.4 680.8h0M994.0 665.1h0M956.3 760.7h0M982.9 649.2h0M964.3 680.6h0M963.2 707.4h0M961.7 772.3h0M1005.9 712.1h0M977.9 702.9h0M961.9 730.1h0M1026.8 707.1h0M950.5 700.7h0M1020.6 732.7h0M981.1 703.7h0M971.9 774.6h0M1032.8 680.0h0M1002.0 719.9h0M981.3 734.4h0M999.0 765.3h0M1028.2 710.5h0M1025.6 710.6h0M981.8 758.0h0M966.0 715.0h0M956.0 695.9h0M1036.0 681.7h0M986.5 772.2h0M977.7 739.9h0M1019.0 706.4h0M1009.0 723.7h0M1009.8 708.5h0M1021.5 667.4h0M974.5 704.7h0M960.6 770.4h0M1015.0 654.2h0M987.0 752.4h0M988.4 738.5h0M1006.4 691.8h0M1012.4 725.0h0M996.2 703.3h0M987.3 672.8h0M950.8 753.8h0M980.4 726.1h0M970.2 729.8h0M1003.7 753.6h0M990.9 750.8h0M962.8 770.0h0M1000.4 742.9h0M1015.9 683.1h0M986.6 716.3h0M996.4 687.9h0M977.9 673.7h0M1040.5 685.6h0M1008.4 670.1h0M996.6 668.5h0M1009.2 679.7h0M976.1 763.2h0M1023.3 726.9h0M1017.7 715.4h0M1001.3 738.9h0M1013.9 660.3h0M1009.4 758.6h0M967.4 761.5h0M960.0 712.8h0M1022.8 677.9h0M997.4 654.6h0M972.2 718.5h0M973.8 745.1h0M970.0 688.1h0M1006.0 694.2h0M957.8 745.2h0M978.3 749.4h0M956.7 693.2h0M1005.2 701.6h0M982.3 705.0h0M945.9 758.8h0M999.5 726.5h0M993.3 735.9h0M967.4 728.9h0M968.6 704.3h0M1026.3 703.0h0M992.9 760.4h0M1004.8 660.2h0M960.8 719.6h0M966.7 721.9h0M1026.4 736.3h0M991.9 679.4h0M962.8 705.3h0M982.0 766.9h0M995.9 742.5h0M1000.7 737.4h0M956.4 678.8h0M974.9 696.2h0M1009.8 741.7h0M998.0 680.4h0M1028.4 671.0h0M968.4 697.7h0M956.5 690.3h0M995.9 734.7h0M999.3 653.9h0M1023.9 730.0h0M979.4 734.7h0M999.7 745.6h0M1003.1 646.1h0M1032.0 665.9h0M1014.9 649.2h0M948.3 739.1h0M949.1 768.3h0M973.2 735.0h0M973.3 705.3h0M990.2 654.4h0M954.9 716.9h0M956.6 752.3h0M1021.8 690.3h0M970.1 686.2h0M1031.3 665.4h0M990.8 705.8h0M970.4 737.7h0M973.7 717.8h0M1035.2 697.0h0M985.0 690.8h0M948.2 746.2h0M1004.1 697.2h0M950.9 765.4h0M1016.2 666.3h0M985.4 731.1h0M983.5 707.3h0M958.8 676.6h0M978.1 652.2h0M958.4 714.2h0M1044.3 683.0h0M947.0 733.3h0M998.7 714.5h0M1023.8 665.9h0M962.9 702.6h0M1005.9 764.0h0M995.3 694.3h0M996.6 706.2h0M973.8 715.7h0M1027.6 686.6h0M976.4 727.0h0M1027.1 676.0h0M1025.1 738.8h0M978.0 743.6h0M1017.4 691.5h0M965.9 696.4h0M1019.8 709.7h0M990.7 700.8h0M978.5 720.3h0M976.8 761.4h0M1006.4 709.6h0M947.0 767.4h0M992.4 661.5h0M1011.0 715.0h0M987.9 742.1h0M1006.8 741.1h0M968.5 764.4h0M962.1 691.5h0M1012.5 677.8h0M1027.3 725.3h0M952.6 752.8h0M966.5 692.7h0M972.4 671.0h0M977.4 747.3h0M964.4 661.2h0M975.0 686.5h0M1028.6 720.6h0M990.3 769.0h0M996.2 700.1h0M1032.0 706.9h0M1013.6 656.6h0M953.5 765.8h0M991.7 752.9h0M1017.4 655.0h0M969.9 724.4h0M1004.3 705.7h0M966.7 700.7h0M972.5 722.9h0M984.2 765.2h0M978.2 768.5h0M967.6 751.2h0M980.7 735.3h0M952.6 731.4h0M991.4 659.7h0M1033.7 658.8h0M962.9 740.9h0M1013.7 742.1h0M1031.0 671.3h0M972.6 729.2h0M1013.0 675.1h0M1020.8 660.0h0M1013.3 672.2h0M958.0 776.8h0M1016.4 754.2h0M1008.2 727.5h0M1004.2 689.0h0M950.9 709.3h0M1037.5 696.3h0M1008.3 736.2h0M979.6 677.1h0M1021.5 728.6h0M974.2 657.3h0M968.2 678.1h0M1004.4 745.4h0M982.8 763.0h0M950.0 732.3h0M998.6 652.8h0M982.1 654.0h0M976.1 753.9h0M989.6 739.6h0M987.8 686.0h0M1040.3 675.3h0M982.4 716.7h0M1024.9 714.6h0M1002.1 705.0h0M972.1 718.5h0M1005.8 728.1h0M953.4 756.1h0M1009.5 680.7h0M975.9 689.6h0M981.8 668.0h0M959.1 744.9h0M1013.7 682.9h0M1010.2 654.1h0M988.4 679.8h0M977.9 683.6h0M987.5 651.6h0M1003.1 669.5h0M1015.6 750.7h0M979.3 773.6h0M950.6 748.0h0M996.9 709.2h0M972.1 675.6h0M986.7 717.0h0M1001.1 722.5h0M961.6 749.9h0M984.5 670.7h0M968.3 758.5h0M1000.5 726.5h0M1023.9 735.2h0M997.2 749.4h0M964.2 746.5h0M969.1 660.4h0M973.9 661.5h0M1028.0 727.8h0M995.7 724.5h0M989.2 755.0h0M1025.2 675.8h0M1023.4 668.5h0M1024.3 717.6h0M972.3 652.5h0M994.9 756.8h0M1012.1 720.9h0M993.3 765.4h0M990.5 734.7h0M986.5 713.3h0M1004.7 725.0h0M1017.8 694.4h0M977.5 672.2h0M1003.2 681.3h0M976.0 709.6h0M1012.4 750.7h0M983.9 761.0h0M983.5 656.2h0M965.6 720.7h0M982.9 776.4h0M1018.4 730.1h0M982.8 685.6h0M1034.8 681.1h0M960.5 677.4h0M1037.2 682.8h0M993.5 738.7h0M1021.3 716.7h0M959.8 729.6h0M1028.4 699.2h0M956.4 754.6h0M966.6 662.6h0M950.2 737.7h0M1029.1 674.5h0M952.1 759.5h0M996.6 680.6h0M971.3 660.2h0M1028.8 700.5h0M1014.0 710.3h0M991.3 694.5h0M1023.3 667.5h0M996.2 739.7h0M1015.9 698.2h0M983.9 698.9h0M1013.4 725.7h0M999.9 704.4h0M1008.3 661.7h0M972.8 709.5h0M998.5 761.4h0M990.5 668.9h0M1037.9 684.1h0M980.5 715.1h0M1025.3 680.2h0M955.8 708.0h0M992.8 703.9h0M1009.0 655.5h0M946.8 744.8h0M995.3 739.2h0M974.1 724.3h0M997.7 677.2h0M1031.3 706.5h0M1021.5 664.8h0M993.3 659.6h0M1015.4 670.4h0M952.5 747.5h0M966.3 698.1h0M964.3 752.9h0M963.7 766.2h0M1022.4 725.8h0M955.7 720.0h0M956.6 687.7h0M1009.0 649.0h0M958.3 730.1h0M1011.2 746.9h0M1009.6 674.9h0M979.8 772.0h0M1003.9 740.2h0M995.1 744.5h0M964.4 730.4h0M1014.6 686.0h0M1013.2 713.4h0M996.6 751.7h0M1016.9 733.2h0M998.9 651.2h0M951.8 742.8h0M1002.4 754.9h0M1001.7 727.9h0M1036.3 689.6h0M990.7 698.2h0M953.9 694.1h0M1025.5 660.0h0M1009.5 679.8h0M950.8 720.5h0M998.0 720.1h0M1036.4 696.3h0M1005.3 663.0h0M971.3 689.7h0M971.8 662.4h0M958.8 671.1h0M956.3 721.2h0M961.7 698.7h0M1018.6 720.8h0M957.7 722.3h0M993.9 649.6h0M991.2 701.6h0M968.0 670.5h0M1006.3 678.6h0M993.9 652.0h0M1025.2 704.5h0M1005.5 727.2h0M955.5 691.8h0M1028.5 717.0h0M1029.2 690.1h0M1017.4 744.5h0M1014.2 702.4h0M1005.3 676.0h0M1030.7 688.9h0M994.4 769.5h0M987.1 702.3h0M1018.2 689.7h0M968.7 736.3h0M1006.1 674.5h0M1003.8 719.5h0M991.9 752.3h0M988.4 713.2h0M1008.0 753.6h0M958.1 711.0h0M1017.9 700.9h0M995.0 714.2h0M1005.6 672.6h0M970.9 742.8h0M989.4 763.1h0M954.7 740.1h0M964.2 720.2h0M1035.1 695.5h0M988.6 713.7h0M958.5 754.9h0M970.8 717.4h0M979.7 745.5h0M967.0 775.2h0M1018.5 699.3h0M1011.9 662.9h0M1012.7 653.4h0M982.2 758.6h0M1002.4 680.0h0M1019.0 675.8h0M950.0 768.4h0M1020.8 651.9h0M1011.0 730.1h0M1023.3 654.9h0M1041.4 672.0h0M978.2 660.1h0M990.6 677.0h0M985.7 766.3h0M949.9 759.0h0M976.0 655.1h0M989.7 761.0h0M969.7 724.5h0M1021.7 666.0h0M993.7 712.9h0M1016.1 677.4h0M984.7 731.2h0M976.1 742.6h0M997.0 716.1h0M1003.4 683.5h0M1001.6 717.8h0M979.3 727.7h0M978.5 706.4h0M1005.9 737.6h0M996.5 691.5h0M998.2 660.9h0M1040.2 695.5h0M1019.1 660.7h0M1030.4 692.9h0M991.7 752.8h0M957.0 719.0h0M994.1 731.0h0M952.2 772.3h0M1009.3 709.8h0M1024.7 670.1h0M1003.8 765.8h0M985.1 678.5h0M986.0 737.0h0M999.3 767.0h0M986.8 733.0h0M963.2 747.7h0M962.7 678.7h0M950.9 730.2h0M990.0 725.8h0M1032.5 666.5h0M984.6 699.6h0M1002.5 700.7h0M980.5 714.5h0M982.2 770.8h0M1015.6 728.5h0M959.4 742.8h0M992.6 648.6h0M1011.2 743.2h0M980.0 679.9h0M982.9 732.6h0M1033.1 692.5h0M994.4 694.3h0M969.4 723.3h0M1004.1 665.6h0M979.9 654.7h0M1018.7 666.3h0M954.4 743.5h0M961.1 769.0h0M1013.4 724.2h0M991.1 733.3h0M999.0 753.2h0M959.9 739.4h0M972.3 767.0h0M1002.4 657.0h0M994.8 720.5h0M1003.1 762.5h0M1023.5 726.4h0M988.6 664.6h0M1020.4 676.9h0M959.5 703.4h0M1001.1 710.6h0M1031.6 695.6h0M997.5 765.9h0M1026.4 713.7h0M957.1 695.1h0M1010.8 677.2h0M993.7 706.4h0M978.2 695.9h0M1002.0 667.7h0M955.3 742.0h0M986.5 699.2h0M955.6 771.8h0M1017.9 717.4h0M991.1 655.9h0M980.9 695.7h0M1025.0 671.3h0M975.9 717.7h0M1008.3 655.9h0M997.6 672.0h0M995.3 759.9h0M1017.8 732.6h0M987.2 690.2h0M957.2 768.5h0M966.5 714.3h0M1027.5 682.3h0M986.6 658.4h0M990.6 653.8h0M981.5 681.9h0M997.6 708.8h0M963.5 760.3h0M977.0 698.9h0M1039.9 687.7h0M966.1 671.9h0M1006.8 739.2h0M971.9 695.5h0M980.4 665.6h0M978.5 678.9h0M950.8 712.8h0M983.9 753.8h0M1028.0 674.8h0M987.4 701.9h0M951.7 704.0h0M987.5 736.4h0M1029.7 666.5h0M999.0 697.4h0M1021.6 682.3h0M994.6 650.5h0M986.7 709.3h0M1011.7 732.2h0M1003.2 747.9h0M956.6 768.0h0M973.5 742.2h0M974.4 738.7h0M946.0 751.5h0M972.2 745.6h0M952.3 730.4h0M1004.2 742.7h0M991.6 728.4h0M1035.9 688.1h0M1023.6 726.7h0M970.9 764.2h0M961.1 771.7h0M947.8 751.8h0M957.0 763.7h0M972.7 713.5h0M958.0 683.9h0M951.7 727.5h0M1004.6 669.4h0M1038.5 681.3h0M961.9 691.0h0M1030.9 698.8h0M967.0 721.0h0M1012.7 714.1h0M1012.0 759.7h0M1006.8 736.4h0M1013.5 656.7h0M975.5 772.4h0M989.1 742.3h0M983.2 674.1h0M1033.2 711.2h0M989.2 769.0h0M980.4 771.3h0M973.8 728.8h0M1022.1 750.9h0M953.2 724.1h0M984.4 720.0h0M988.3 751.4h0M978.2 732.8h0M969.5 760.2h0M1014.4 756.3h0M967.7 720.3h0M958.3 734.8h0M995.5 768.1h0M976.4 729.8h0M1000.4 729.1h0M1018.5 655.0h0M1012.1 708.7h0M995.7 764.1h0M974.8 753.1h0M956.7 746.1h0M952.5 743.9h0M965.5 755.6h0M1015.1 699.6h0M988.6 699.4h0M979.7 750.5h0M1010.0 718.1h0M1013.2 660.2h0M1014.8 749.1h0M1025.6 667.6h0M986.6 691.2h0M984.9 676.1h0M963.1 714.5h0M1015.6 727.7h0M970.7 673.2h0M1023.7 655.2h0M1002.3 725.2h0M993.2 745.0h0M994.2 697.3h0M993.8 669.8h0M975.6 759.0h0M1023.1 695.4h0M953.4 719.9h0M975.3 704.0h0M1001.8 654.1h0M977.4 773.7h0M974.8 757.6h0M1016.0 756.5h0M1020.7 663.1h0M1001.2 690.7h0M989.8 732.3h0M967.4 695.1h0M992.6 698.8h0M994.2 731.8h0M966.9 719.3h0M972.2 698.1h0M975.5 764.8h0M1008.8 761.2h0M964.9 698.2h0M999.3 653.9h0M986.7 671.3h0M963.1 774.6h0M975.9 713.8h0M964.7 723.1h0M1037.0 677.4h0M999.3 686.5h0M962.6 684.2h0M1041.8 667.9h0M987.4 696.4h0M973.4 653.4h0M1011.9 656.5h0M994.4 693.6h0M1022.9 672.6h0M1014.8 715.5h0M1026.4 696.5h0M977.7 720.8h0M1025.7 720.8h0M960.1 767.1h0M981.1 707.4h0M1010.9 683.6h0M970.0 733.9h0M1022.3 691.4h0M1015.5 658.1h0M968.4 728.9h0M972.8 687.9h0M1004.4 731.4h0M1001.1 656.1h0M976.4 737.8h0M970.5 742.1h0M1021.5 700.7h0M1014.3 743.9h0M978.8 757.7h0M968.4 772.1h0M983.7 677.5h0M1033.9 684.0h0M973.4 761.0h0M1003.4 659.2h0M987.5 655.1h0M1005.2 738.1h0M989.6 724.6h0M1019.6 675.5h0M1006.6 718.7h0M1011.1 742.6h0M1015.1 653.6h0M994.2 767.6h0M1007.4 671.0h0M1031.6 697.7h0M1002.0 701.8h0M1002.4 709.7h0M993.2 682.7h0M996.8 754.2h0M1007.0 750.8h0M1009.7 754.8h0M1015.9 662.6h0M1034.7 698.2h0M982.9 686.3h0M984.4 666.7h0M1010.9 670.0h0M1035.5 686.5h0M992.7 720.9h0M965.5 775.0h0M960.0 687.9h0M963.2 772.7h0M1007.3 715.1h0M1002.2 751.8h0M974.8 694.3h0M1008.9 703.0h0M1012.5 687.9h0M1018.1 700.4h0M974.5 730.9h0M962.0 693.7h0M965.9 772.9h0M980.0 658.8h0M954.9 714.3h0M1027.0 695.5h0M1030.3 724.1h0M952.7 741.8h0M1007.0 711.1h0M1004.0 739.5h0M1007.2 720.2h0M967.8 745.0h0M973.8 704.3h0M1035.7 664.2h0M1012.6 760.2h0M992.5 718.6h0M999.1 662.9h0M1025.0 721.2h0M976.7 753.7h0M999.0 758.0h0M985.7 738.5h0M1051.0 697.0h0M1046.0 702.0h0M1041.0 710.0h0M1034.0 718.0h0M1040.0 727.0h0M1036.0 734.0h0M1032.0 742.0h0M1025.0 750.0h0M1020.0 758.0h0M1012.0 766.0h0M893.0 623.0h0M898.0 696.6h0M953.0 787.0h0M902.6 787.4h0M1053.0 663.0h0M878.0 426.6h0M886.6 438.4h0M900.0 543.6h0M896.6 546.4h0M890.0 559.6h0M892.0 563.6h0M888.0 563.0h0M887.6 566.0h0M886.0 571.0h0M883.6 573.0h0M885.0 576.0h0M884.4 579.6h0M886.0 584.4h0M885.6 586.0h0M893.0 623.4h0M935.0 375.0h0M939.3 374.3h0M942.7 376.7h0M955.0 371.2h0M179.2 552.5h0M187.6 533.1h0M198.2 557.8h0M161.7 561.9h0M163.9 519.5h0M149.5 539.1h0M217.7 525.3h0M210.4 508.1h0M164.2 545.8h0M196.9 564.6h0M174.2 509.9h0M193.9 550.7h0M191.5 531.8h0M190.1 518.9h0M155.6 534.1h0M193.5 540.0h0M174.2 557.8h0M217.1 514.4h0M208.2 511.8h0M197.0 506.6h0M170.1 564.0h0M162.8 527.5h0M186.0 510.3h0M219.9 511.9h0M161.1 535.0h0M199.9 519.5h0M181.7 517.8h0M171.5 542.7h0M165.0 515.1h0M198.9 529.0h0M172.1 533.4h0M175.3 534.4h0M159.8 542.2h0M181.0 540.8h0M193.9 547.6h0M203.2 511.6h0M187.9 558.6h0M153.1 544.3h0M210.0 526.0h0M196.8 550.0h0M171.2 519.4h0M173.0 526.7h0M189.1 505.0h0M185.3 520.9h0M194.9 524.4h0M199.0 538.4h0M174.9 550.9h0M168.1 515.7h0M150.1 557.3h0M184.7 552.1h0M183.7 527.1h0M167.0 542.5h0M177.6 509.8h0M181.1 504.5h0M154.1 556.0h0M149.3 552.4h0M192.6 557.5h0M216.4 504.1h0M199.1 539.0h0M156.4 525.5h0M162.3 555.2h0M186.7 505.4h0M180.8 520.6h0M192.0 564.9h0M154.1 547.6h0M210.1 530.7h0M178.8 525.9h0M210.4 506.5h0M171.5 523.5h0M179.8 563.8h0M190.5 514.8h0M169.1 529.0h0M153.2 553.4h0M204.7 530.4h0M184.0 538.0h0M179.1 511.6h0M184.1 517.5h0M161.5 535.6h0M181.2 528.3h0M215.5 521.9h0M201.2 500.6h0M169.7 535.7h0M172.7 511.1h0M206.0 522.7h0M156.6 537.4h0M185.4 510.4h0M152.8 528.5h0M160.2 522.3h0M151.8 535.6h0M177.2 518.2h0M195.3 510.9h0M210.2 516.2h0M149.0 541.6h0M148.8 545.9h0M204.7 507.5h0M182.1 562.7h0M148.9 546.7h0M151.2 553.9h0M201.1 533.6h0M157.8 557.3h0M199.0 521.7h0M219.7 507.3h0M163.0 538.0h0M185.5 554.6h0M166.8 545.9h0M206.7 528.1h0M171.1 551.3h0M200.1 541.5h0M211.5 520.9h0M168.4 522.2h0M184.9 549.3h0M188.9 551.4h0M165.7 551.7h0M184.6 543.2h0M172.9 560.9h0M157.6 561.4h0M191.1 527.6h0M206.3 527.7h0M177.4 566.3h0M192.8 513.9h0M178.3 525.2h0M200.0 518.8h0M190.7 526.3h0M179.5 557.7h0M183.9 535.1h0M199.5 523.8h0M168.3 557.1h0M207.0 519.8h0M198.6 509.3h0M184.1 504.9h0M207.5 499.8h0M220.6 517.0h0M192.7 555.2h0M176.5 558.9h0M168.4 535.7h0M204.7 502.3h0M157.1 546.3h0M199.9 526.5h0M167.5 529.9h0M171.0 540.7h0M205.4 514.5h0M184.9 537.2h0M157.1 538.1h0M215.2 508.5h0M170.0 517.0h0M179.3 508.5h0M165.0 535.1h0M196.4 554.9h0M162.6 559.0h0M156.5 558.5h0M158.6 546.7h0M194.6 544.7h0M198.4 552.5h0M161.7 559.5h0M181.7 566.9h0M198.7 545.6h0M216.3 510.8h0M207.5 512.5h0M168.2 558.2h0M151.2 543.9h0M200.1 562.1h0M175.4 508.7h0M187.5 524.0h0M175.7 532.4h0M192.8 536.5h0M197.5 515.2h0M152.8 534.2h0M176.7 536.6h0M164.0 561.8h0M165.4 526.2h0M185.0 524.1h0M166.1 560.9h0M203.1 506.4h0M196.1 530.5h0M172.7 524.7h0M190.6 537.4h0M190.0 544.9h0M184.1 552.2h0M191.8 514.4h0M168.1 564.5h0M202.0 505.5h0M216.4 520.0h0M179.7 550.6h0M162.1 541.1h0M180.0 535.8h0M218.5 506.4h0M165.2 543.6h0M213.4 530.7h0M210.0 501.7h0M189.4 535.8h0M160.4 553.2h0M201.3 515.9h0M176.8 559.7h0M175.9 543.5h0M176.5 516.8h0M191.4 541.1h0M188.0 514.0h0M211.4 509.3h0M218.7 511.6h0M186.7 532.0h0M176.5 549.2h0M204.2 512.5h0M213.4 515.6h0M190.3 533.8h0M153.8 537.0h0M189.3 514.2h0M205.3 532.8h0M177.0 533.9h0M185.5 511.0h0M153.3 546.0h0M219.5 529.2h0M184.4 549.8h0M199.4 506.2h0M203.4 522.1h0M220.5 509.2h0M175.1 518.8h0M148.6 536.9h0M191.5 529.7h0M157.8 551.1h0M160.7 542.8h0M210.6 505.6h0M151.4 547.2h0M170.1 553.8h0M191.1 561.4h0M173.3 561.7h0M223.6 513.9h0M182.3 545.8h0M171.8 531.9h0M196.4 556.4h0M183.4 553.1h0M169.3 554.9h0M190.0 513.1h0M197.8 509.7h0M183.7 523.2h0M159.6 530.0h0M221.7 518.5h0M185.1 557.3h0M158.7 555.9h0M198.5 508.6h0M201.4 503.1h0M197.8 501.1h0M171.9 536.2h0M162.6 518.8h0M200.2 507.3h0M199.2 505.2h0M173.2 556.9h0M164.2 560.7h0M193.4 503.0h0M164.9 527.6h0M195.1 511.9h0M177.6 559.0h0M185.2 543.1h0M171.2 512.5h0M196.6 558.7h0M179.4 544.5h0M182.1 567.9h0M172.1 562.8h0M168.3 540.7h0M194.9 507.1h0M198.4 535.8h0M190.7 520.0h0M180.8 554.1h0M161.9 549.6h0M185.5 544.7h0M171.7 541.8h0M156.2 531.8h0M166.9 538.3h0M178.2 538.5h0M156.5 539.8h0M164.8 552.4h0M174.8 541.8h0M169.2 540.3h0M179.0 508.1h0M158.8 554.3h0M208.8 509.5h0M190.7 520.5h0M187.6 551.2h0M169.9 556.8h0M181.0 558.8h0M194.7 517.4h0M195.4 539.2h0M223.1 511.5h0M203.7 522.1h0M199.2 524.1h0M181.3 503.6h0M167.5 556.0h0M184.6 503.8h0M172.5 513.2h0M158.4 521.4h0M165.7 535.5h0M171.7 547.6h0M171.5 522.8h0M191.3 501.5h0M183.0 516.3h0M171.1 536.8h0M214.2 525.0h0M208.8 507.4h0M166.6 538.4h0M207.8 518.8h0M166.4 545.0h0M213.0 534.0h0M209.0 543.0h0M212.0 541.0h0M218.0 539.0h0M224.0 538.0h0M226.0 542.0h0M232.4 542.4h0M217.0 550.0h0M222.0 549.0h0M226.0 552.0h0M231.0 549.0h0M234.0 552.0h0M205.0 547.0h0M206.0 553.0h0M205.0 559.0h0M207.0 558.4h0M231.6 558.6h0M201.0 568.0h0M207.0 568.0h0M213.0 570.4h0M214.0 576.0h0M220.6 580.4h0M223.6 575.6h0M228.0 572.4h0M230.0 574.0h0M234.0 569.0h0M237.0 569.0h0M240.0 572.0h0M243.0 571.0h0M245.0 574.0h0M241.0 576.0h0M241.6 499.0h0M236.0 510.0h0M244.0 507.0h0M247.0 505.0h0M252.0 491.0h0M255.0 488.0h0M258.0 492.4h0M257.0 487.6h0M250.4 544.6h0M275.6 529.4h0M168.6 569.0h0M165.6 565.0h0M367.7 790.9h0M335.1 828.2h0M390.0 779.4h0M351.2 719.9h0M334.2 794.0h0M353.0 760.7h0M322.9 799.3h0M371.5 825.0h0M352.1 783.5h0M347.7 842.4h0M318.2 846.3h0M338.9 769.9h0M365.9 760.2h0M385.0 760.5h0M356.0 723.0h0M366.6 734.2h0M326.8 820.8h0M328.7 763.5h0M314.3 770.6h0M369.2 836.8h0M322.3 822.4h0M288.3 824.8h0M370.9 798.1h0M316.0 836.9h0M301.2 850.0h0M394.0 813.5h0M348.8 738.2h0M350.6 819.6h0M388.6 821.3h0M331.5 754.6h0M328.1 849.9h0M339.6 801.9h0M360.0 771.2h0M376.5 777.9h0M302.7 797.0h0M332.6 856.5h0M342.0 775.0h0M349.4 830.2h0M311.5 808.4h0M318.9 744.1h0M366.2 738.3h0M293.2 825.5h0M396.9 834.1h0M303.8 827.8h0M323.5 833.1h0M296.3 838.2h0M313.8 853.6h0M377.8 801.2h0M377.5 745.0h0M347.6 785.3h0M385.0 795.4h0M369.4 748.4h0M348.7 858.7h0M363.0 811.8h0M333.6 767.0h0M363.7 840.5h0M374.3 767.3h0M362.7 784.4h0M398.9 795.1h0M338.0 836.1h0M385.4 815.6h0M333.0 731.9h0M324.2 865.6h0M316.5 760.9h0M351.2 799.8h0M406.5 804.9h0M306.1 850.3h0M314.6 827.4h0M383.8 832.0h0M386.2 766.3h0M381.4 842.7h0M338.7 855.5h0M348.5 778.5h0M338.0 782.1h0M309.4 776.1h0M366.7 844.6h0M390.7 809.1h0M333.0 777.6h0M350.7 744.5h0M367.0 817.9h0M368.6 854.4h0M315.4 760.7h0M301.4 806.7h0M389.0 828.4h0M324.8 817.0h0M396.0 801.2h0M394.9 828.1h0M358.1 812.1h0M337.7 746.8h0M335.1 799.7h0M327.8 786.1h0M359.6 729.8h0M321.3 805.5h0M361.9 789.5h0M329.4 722.1h0M344.9 756.2h0M387.9 803.2h0M354.0 733.7h0M340.3 751.8h0M307.8 793.8h0M340.6 824.2h0M352.7 750.1h0M354.4 838.9h0M373.6 764.2h0M345.4 728.5h0M307.3 792.1h0M336.7 809.8h0M329.9 855.2h0M336.5 844.9h0M320.2 752.9h0M384.4 788.6h0M321.9 735.1h0M323.7 848.8h0M305.3 829.7h0M337.2 750.3h0M340.9 747.6h0M390.5 776.1h0M332.3 733.3h0M376.2 840.1h0M353.7 846.7h0M329.1 808.4h0M386.3 773.9h0M351.4 769.1h0M378.9 784.5h0M367.6 766.4h0M371.6 786.8h0M338.2 775.1h0M337.4 792.7h0M346.7 763.0h0M401.9 806.3h0M309.0 837.2h0M365.5 754.1h0M396.8 829.4h0M324.0 753.4h0M358.2 851.1h0M311.6 822.1h0M342.2 724.1h0M311.1 849.9h0M360.5 857.8h0M325.4 783.7h0M320.8 857.7h0M361.4 761.5h0M326.1 744.8h0M372.1 850.8h0M377.3 734.7h0M372.8 737.5h0M363.4 811.5h0M354.8 823.7h0M330.8 839.7h0M400.1 785.8h0M374.2 821.5h0M392.1 839.7h0M359.4 755.9h0M343.7 809.4h0M369.0 795.0h0M359.8 750.5h0M369.1 778.9h0M384.1 755.7h0M353.8 852.5h0M322.3 855.1h0M366.5 781.2h0M378.0 753.5h0M308.8 784.7h0M351.5 809.7h0M391.8 795.0h0M315.2 776.8h0M395.6 796.1h0M357.3 720.8h0M343.3 794.5h0M368.8 743.5h0M382.8 761.1h0M371.2 820.5h0M360.5 859.5h0M314.3 806.7h0M335.6 803.8h0M305.4 841.2h0M349.4 805.0h0M338.6 851.7h0M323.7 828.0h0M319.0 791.1h0M352.5 745.5h0M379.4 767.0h0M341.4 829.5h0M317.6 802.5h0M355.3 755.8h0M288.1 837.9h0M313.7 767.4h0M308.9 856.7h0M355.0 832.9h0M343.4 745.7h0M366.3 856.0h0M305.0 784.5h0M365.6 728.4h0M360.9 724.7h0M325.0 726.0h0M328.6 771.3h0M391.9 778.3h0M367.7 807.6h0M336.6 829.5h0M339.6 738.3h0M384.0 784.6h0M345.0 733.9h0M332.7 725.9h0M365.9 745.3h0M286.7 829.2h0M331.0 790.4h0M318.3 794.2h0M329.0 771.9h0M292.1 819.8h0M399.6 790.8h0M293.4 843.9h0M380.9 736.7h0M308.1 801.3h0M349.0 724.0h0M325.5 842.1h0M290.0 836.4h0M388.3 778.4h0M381.3 779.7h0M354.9 790.8h0M351.4 858.5h0M382.5 776.8h0M326.7 830.9h0M340.5 796.9h0M369.0 726.0h0M373.6 841.9h0M324.1 837.9h0M290.1 820.4h0M371.1 785.7h0M389.5 836.6h0M329.5 735.8h0M356.0 749.3h0M402.0 815.5h0M359.7 804.3h0M345.4 720.3h0M373.2 746.2h0M337.3 778.8h0M363.5 802.1h0M311.1 813.4h0M292.4 839.4h0M325.9 857.9h0M345.6 836.8h0M372.8 823.7h0M368.8 755.6h0M329.6 729.9h0M325.0 827.2h0M371.6 852.4h0M344.5 769.5h0M358.4 801.5h0M329.0 780.7h0M402.2 787.6h0M388.7 804.7h0M318.3 767.8h0M326.9 792.6h0M347.4 839.9h0M398.8 806.2h0M384.4 808.1h0M375.7 796.9h0M312.3 859.9h0M343.9 824.8h0M362.6 842.6h0M326.3 804.6h0M359.4 793.8h0M345.2 724.4h0M321.5 780.6h0M363.1 821.0h0M378.4 830.6h0M323.4 763.7h0M367.3 822.5h0M376.6 815.1h0M311.8 781.2h0M333.8 763.5h0M359.1 823.3h0M369.6 826.3h0M325.6 809.7h0M374.9 835.6h0M380.7 839.7h0M357.0 833.1h0M361.2 790.1h0M379.9 799.9h0M372.0 840.4h0M369.2 807.9h0M394.3 773.9h0M351.2 801.8h0M348.7 792.0h0M364.0 834.7h0M380.2 820.9h0M357.6 778.4h0M326.4 807.4h0M323.0 835.7h0M373.0 735.8h0M341.4 758.9h0M322.2 865.6h0M321.1 759.2h0M380.9 753.4h0M334.2 813.8h0M321.1 794.4h0M368.2 781.9h0M303.3 857.6h0M327.9 734.6h0M316.0 786.9h0M314.4 818.3h0M343.4 840.6h0M396.5 814.3h0M364.5 731.2h0M321.9 841.3h0M371.9 729.6h0M373.2 776.6h0M337.6 850.1h0M395.2 837.6h0M333.6 852.5h0M374.3 832.4h0M339.7 814.6h0M359.2 764.4h0M303.1 825.6h0M380.4 766.9h0M378.4 751.1h0M326.9 824.5h0M382.8 812.2h0M372.8 825.4h0M360.1 785.0h0M317.6 829.3h0M395.7 778.1h0M337.4 738.1h0M309.0 809.5h0M312.2 854.0h0M337.2 859.8h0M353.3 738.8h0M343.3 821.3h0M407.9 804.2h0M340.6 838.6h0M401.6 807.2h0M347.1 827.1h0M368.4 762.9h0M360.9 733.4h0M347.3 845.1h0M362.3 846.7h0M332.5 756.3h0M405.5 802.6h0M349.8 812.6h0M382.3 757.7h0M370.0 736.7h0M306.6 822.8h0M339.5 848.2h0M347.7 848.0h0M298.5 830.4h0M373.5 757.9h0M305.3 817.6h0M393.9 786.8h0M352.9 820.6h0M378.9 825.3h0M356.8 728.1h0M335.5 819.6h0M360.6 815.2h0M331.8 843.9h0M330.4 826.0h0M365.6 758.0h0M384.8 791.7h0M347.5 821.7h0M339.7 724.2h0M365.5 812.3h0M329.2 860.3h0M374.9 815.5h0M315.9 836.0h0M355.5 808.2h0M329.1 797.3h0M331.3 795.7h0M366.5 722.3h0M337.5 852.5h0M309.8 825.4h0M350.5 727.9h0M392.4 769.9h0M372.7 802.1h0M385.4 819.0h0M342.6 807.5h0M377.8 809.2h0M305.3 810.9h0M385.0 773.7h0M347.5 738.0h0M367.8 770.6h0M348.2 835.2h0M377.7 826.1h0M350.7 850.9h0M394.6 769.5h0M330.3 749.1h0M361.0 834.4h0M301.5 810.5h0M340.0 790.9h0M358.2 791.4h0M359.9 740.2h0M360.9 837.6h0M385.1 758.1h0M354.1 830.2h0M307.2 791.5h0M357.0 725.1h0M362.1 825.7h0M319.8 742.7h0M333.0 811.3h0M364.7 787.1h0M324.4 731.2h0M348.0 810.4h0M337.1 815.6h0M331.1 765.9h0M382.7 825.3h0M328.9 768.4h0M366.3 828.6h0M338.6 864.2h0M293.9 835.0h0M357.2 835.6h0M400.1 798.9h0M350.7 777.1h0M331.2 790.5h0M327.9 791.0h0M401.5 808.8h0M366.2 773.7h0M404.5 793.3h0M336.7 787.5h0M371.8 745.9h0M305.7 854.1h0M308.3 817.3h0M334.5 786.3h0M343.9 785.2h0M310.7 803.9h0M337.8 785.3h0M370.3 854.6h0M404.0 804.6h0M349.3 744.0h0M344.6 743.8h0M336.7 771.5h0M350.3 851.7h0M313.4 809.5h0M372.2 744.3h0M349.4 766.4h0M378.0 837.1h0M357.3 743.8h0M340.6 782.2h0M337.6 817.2h0M318.5 791.5h0M335.5 725.8h0M319.5 766.4h0M337.4 772.1h0M314.1 795.2h0M342.5 826.1h0M347.6 783.8h0M296.4 842.1h0M335.3 822.4h0M338.3 762.4h0M302.9 840.0h0M327.0 812.3h0M377.9 844.8h0M375.1 840.8h0M363.8 798.8h0M355.4 846.1h0M345.9 792.0h0M334.5 812.5h0M383.3 836.6h0M338.1 760.7h0M360.0 823.9h0M376.2 830.1h0M399.4 810.2h0M342.5 755.1h0M375.8 805.6h0M357.8 762.3h0M306.0 856.2h0M348.9 858.4h0M375.0 828.5h0M390.5 804.4h0M371.3 771.8h0M319.4 800.3h0M298.3 855.3h0M305.4 803.9h0M309.1 858.7h0M320.1 841.6h0M342.3 790.0h0M296.8 844.7h0M379.9 752.1h0M310.4 832.8h0M335.5 817.8h0M366.9 723.7h0M374.9 813.5h0M360.4 840.7h0M363.0 799.8h0M290.0 831.0h0M372.0 759.8h0M326.7 836.5h0M316.1 775.4h0M300.7 849.2h0M341.9 780.9h0M376.8 834.8h0M316.8 755.6h0M300.9 820.9h0M351.4 820.2h0M356.2 830.1h0M339.9 794.5h0M342.2 768.4h0M324.0 743.3h0M344.9 811.3h0M369.8 829.5h0M325.2 745.7h0M330.9 779.3h0M327.0 782.4h0M334.4 779.2h0M353.4 805.3h0M343.0 772.0h0M325.2 789.5h0M343.9 767.0h0M331.2 858.1h0M378.5 831.6h0M349.6 759.5h0M380.4 761.4h0M383.9 835.8h0M296.8 816.3h0M385.0 784.5h0M372.8 744.1h0M379.5 776.8h0M363.5 852.3h0M322.7 789.5h0M359.0 853.5h0M297.2 849.2h0M365.1 721.1h0M308.9 851.3h0M334.8 846.6h0M305.5 827.7h0M382.9 827.8h0M332.2 739.5h0M325.1 845.5h0M367.9 769.7h0M367.5 807.9h0M346.6 834.3h0M337.0 796.4h0M399.3 820.6h0M298.7 833.1h0M333.0 864.1h0M379.4 783.2h0M373.9 752.7h0M329.5 740.4h0M364.9 827.3h0M351.7 815.7h0M309.8 798.6h0M350.1 729.1h0M352.7 845.9h0M399.0 852.0h0M402.0 848.4h0M365.6 860.0h0M458.6 849.7h0M439.8 837.8h0M454.0 852.8h0M417.1 805.6h0M424.2 832.4h0M414.3 814.2h0M463.6 861.1h0M471.7 849.0h0M408.6 813.5h0M436.0 832.6h0M449.9 844.1h0M429.9 829.2h0M418.3 823.2h0M413.2 821.9h0M475.4 864.6h0M424.5 821.6h0M411.7 817.2h0M418.1 806.1h0M460.2 844.1h0M405.5 802.1h0M468.2 849.1h0M449.5 849.7h0M469.7 860.1h0M409.2 806.3h0M443.8 834.5h0M460.2 851.6h0M426.4 823.3h0M456.1 839.2h0M420.5 813.5h0M418.7 818.5h0M468.6 857.5h0M451.6 839.9h0M466.9 853.0h0M417.7 811.7h0M464.7 846.2h0M462.7 864.4h0M454.1 845.8h0M420.2 816.8h0M418.5 814.2h0M460.9 853.9h0M424.8 826.9h0M409.7 811.1h0M471.0 848.2h0M436.7 837.8h0M459.9 864.2h0M457.6 855.7h0M428.1 823.5h0M461.0 856.4h0M456.8 858.2h0M469.3 866.2h0M422.7 818.4h0M465.1 845.9h0M419.0 808.5h0M458.6 860.9h0M447.7 837.8h0M460.2 859.2h0M416.1 829.3h0M423.5 815.9h0M441.1 837.3h0M443.0 835.7h0M442.6 842.2h0M466.6 846.8h0M431.4 834.4h0M477.4 858.1h0M446.1 841.6h0M417.5 827.6h0M460.3 864.0h0M413.9 823.1h0M472.3 868.1h0M471.4 861.8h0M414.2 806.5h0M452.2 848.4h0M444.2 836.1h0M449.6 854.8h0M457.9 847.7h0M440.6 841.4h0M417.3 817.4h0M460.6 850.9h0M467.3 864.6h0M438.3 831.3h0M407.3 806.5h0M466.6 866.3h0M473.1 852.2h0M475.4 858.6h0M460.7 863.2h0M479.3 879.4h0M504.5 876.5h0M490.3 880.5h0M491.6 870.4h0M485.6 882.9h0M508.9 877.1h0M482.2 873.2h0M496.5 869.4h0M504.0 873.8h0M494.6 876.5h0M506.3 882.6h0M480.7 868.1h0M505.5 876.3h0M487.1 876.2h0M488.7 877.0h0M495.7 869.4h0M508.2 881.1h0M506.7 878.6h0M476.0 871.9h0M487.7 879.9h0M492.0 872.9h0M489.0 880.6h0M476.7 876.0h0M503.3 883.3h0M484.7 878.3h0M498.6 883.4h0M500.7 880.4h0M499.5 883.0h0M482.0 884.0h0M491.2 878.2h0M499.3 874.0h0M492.1 882.7h0M481.1 877.7h0M492.1 866.8h0M498.0 872.3h0M479.2 872.2h0M483.0 882.7h0M486.9 867.1h0M502.9 871.8h0M500.7 877.5h0M481.5 874.5h0M499.1 866.9h0M507.6 879.1h0M484.4 870.9h0M490.3 872.4h0M485.9 876.1h0M484.9 873.0h0M479.6 869.5h0M486.0 882.5h0M475.8 871.1h0M494.8 886.6h0M498.5 879.8h0M481.9 875.9h0M482.1 877.5h0M492.1 880.4h0M490.0 888.0h0M492.0 894.0h0M497.6 903.6h0M498.0 910.4h0M503.0 920.0h0M503.6 923.6h0M505.2 933.2h0M509.2 952.2h0M519.2 909.8h0M447.0 857.0h0M443.0 848.4h0M422.0 839.4h0M516.2 988.1h0M518.7 994.0h0M515.2 978.7h0M517.3 986.3h0M516.1 988.8h0M514.2 982.3h0M511.6 970.7h0M515.8 984.4h0M514.1 980.3h0M513.3 969.5h0M518.0 988.1h0M513.5 970.2h0M515.2 985.9h0M516.1 986.3h0M517.0 987.5h0M517.1 990.0h0M512.4 974.2h0M513.2 973.0h0M513.4 976.6h0M514.6 975.3h0M514.2 974.1h0M518.0 991.5h0M515.7 984.9h0M514.4 978.6h0M522.8 1002.4h0M518.7 1012.9h0M515.3 1011.6h0M509.5 1012.0h0M524.9 1001.1h0M522.8 1000.0h0M511.3 1016.8h0M519.5 1004.4h0M522.6 1004.1h0M512.5 1012.0h0M524.7 1004.7h0M529.1 1003.3h0M522.1 1012.8h0M517.7 1008.1h0M521.1 1009.9h0M511.4 1009.9h0M523.3 1010.4h0M513.5 1013.7h0M526.7 1001.6h0M523.7 1009.1h0M515.6 1007.5h0M523.4 1003.1h0M512.8 1008.5h0M521.7 1002.4h0M516.1 1008.2h0M529.4 999.4h0M527.1 1007.0h0M513.3 1013.7h0M517.7 1014.4h0M523.3 1008.4h0M517.6 1013.3h0M519.8 1008.1h0M525.6 989.6h0M524.4 994.0h0M431.0 1046.0h0M433.0 1044.4h0M435.0 1043.0h0M437.6 1041.4h0M604.0 841.0h0M602.0 845.0h0M604.0 847.0h0M606.0 852.6h0M607.0 858.0h0M608.0 861.0h0M609.0 863.0h0M611.4 870.0h0M614.0 875.6h0M615.0 878.0h0M617.0 881.0h0M618.4 885.0h0M616.6 890.0h0M622.4 891.0h0M625.0 894.0h0M621.6 903.0h0M628.0 902.0h0M630.0 906.0h0M628.0 908.0h0M633.0 912.0h0M628.0 914.0h0M632.0 918.0h0M627.0 920.0h0M624.0 923.0h0M621.0 925.0h0M618.6 926.0h0M614.3 873.2h0M604.8 853.7h0M626.0 920.5h0M627.4 918.5h0M632.9 914.9h0M607.7 860.8h0M604.0 846.6h0M610.5 865.9h0M615.0 876.9h0M603.7 841.0h0M605.6 850.5h0M622.3 888.6h0M611.1 871.6h0M627.6 899.9h0M627.5 920.1h0M630.4 910.9h0M605.0 852.2h0M605.7 856.8h0M616.3 882.1h0M611.1 871.3h0M606.6 857.0h0M630.3 906.2h0M632.6 915.0h0M605.0 845.9h0M628.0 901.6h0M609.2 861.9h0M630.4 909.4h0M618.5 886.0h0M623.3 891.3h0M622.5 923.5h0M630.6 908.1h0M617.5 880.8h0M618.5 925.8h0M607.5 859.3h0M607.2 861.7h0M609.5 864.7h0M630.3 908.8h0M605.2 846.2h0M635.8 692.0h0M596.9 692.6h0M614.6 697.3h0M617.7 659.2h0M637.8 670.8h0M605.0 670.1h0M638.1 659.6h0M595.6 671.6h0M601.6 684.0h0M605.1 659.1h0M597.3 701.3h0M621.5 666.3h0M593.2 671.6h0M624.1 693.1h0M604.8 691.7h0M608.5 680.4h0M612.0 665.0h0M632.1 662.0h0M599.8 646.6h0M621.3 706.5h0M594.1 687.1h0M613.2 675.1h0M592.7 655.9h0M621.7 662.1h0M622.8 679.5h0M615.6 688.6h0M620.4 651.7h0M643.4 690.7h0M598.1 680.7h0M588.5 673.7h0M601.6 678.9h0M602.9 705.3h0M608.5 692.3h0M609.7 685.3h0M624.4 697.0h0M610.1 651.8h0M588.6 694.1h0M599.2 697.1h0M600.5 652.7h0M638.0 684.3h0M600.8 652.3h0M630.8 676.7h0M634.0 681.4h0M617.1 680.9h0M623.3 686.1h0M628.4 666.8h0M626.6 702.9h0M589.0 694.6h0M622.5 696.8h0M603.7 674.9h0M626.2 677.5h0M594.4 697.0h0M588.2 668.0h0M608.6 675.2h0M597.3 659.6h0M628.8 687.7h0M610.5 658.0h0M593.8 664.3h0M611.3 706.3h0M644.3 685.0h0M618.4 675.1h0M607.4 697.6h0M630.1 691.7h0M601.9 655.5h0M596.7 701.3h0M587.8 659.2h0M633.2 674.8h0M624.5 685.3h0M610.5 681.4h0M638.5 690.2h0M640.8 683.3h0M637.0 681.3h0M617.2 696.4h0M592.7 650.2h0M594.4 668.9h0M589.1 681.8h0M590.2 647.3h0M630.4 671.1h0M590.0 675.8h0M602.4 646.6h0M636.9 678.1h0M607.4 646.2h0M625.7 683.8h0M613.4 661.4h0M636.8 687.9h0M622.3 698.5h0M603.1 694.9h0M617.2 666.5h0M640.1 655.9h0M592.5 692.9h0M598.6 694.2h0M617.9 667.8h0M615.2 657.7h0M640.6 669.4h0M595.3 687.2h0M612.0 693.1h0M619.1 675.0h0M617.0 685.8h0M593.9 667.3h0M590.5 691.3h0M596.0 655.9h0M620.1 688.9h0M637.8 687.7h0M638.9 687.4h0M638.1 671.5h0M588.9 684.9h0M603.6 681.2h0M597.4 685.9h0M588.6 679.7h0M601.7 657.7h0M613.8 676.2h0M616.6 693.2h0M630.8 679.7h0M601.2 698.3h0M612.3 653.3h0M611.6 702.5h0M594.3 697.4h0M607.7 670.0h0M645.0 678.8h0M599.4 671.8h0M641.1 678.9h0M633.4 658.0h0M623.8 671.6h0M617.3 672.4h0M641.6 691.3h0M612.9 681.1h0M620.3 667.1h0M634.2 697.9h0M618.1 660.8h0M611.1 655.3h0M609.7 703.4h0M630.1 688.0h0M598.5 665.1h0M617.0 692.0h0M603.3 662.8h0M645.1 685.2h0M607.4 663.4h0M610.7 689.6h0M585.7 672.0h0M619.4 668.8h0M617.5 685.5h0M595.7 648.5h0M587.5 679.9h0M630.0 688.6h0M605.2 695.4h0M610.9 698.6h0M614.4 681.0h0M593.7 646.9h0M624.7 675.8h0M611.3 656.2h0M635.3 662.8h0M615.9 693.7h0M628.2 664.0h0M608.3 687.4h0M613.7 666.6h0M605.4 645.4h0M601.2 699.2h0M618.8 662.9h0M632.5 696.7h0M622.5 679.4h0M597.8 660.6h0M610.0 705.2h0M608.4 676.9h0M613.5 665.5h0M591.4 648.9h0M638.8 683.2h0M599.0 687.6h0M621.8 701.2h0M605.5 691.4h0M612.7 703.5h0M597.5 690.9h0M627.1 672.7h0M605.6 669.8h0M627.7 698.4h0M633.2 656.2h0M610.9 690.1h0M609.6 684.8h0M607.6 679.0h0M639.1 676.6h0M632.2 699.3h0M642.3 665.1h0M615.5 664.1h0M604.9 668.0h0M634.2 668.8h0M634.6 701.4h0M598.1 682.9h0M604.5 686.5h0M626.1 680.1h0M602.6 701.1h0M627.2 702.6h0M607.9 664.9h0M637.2 691.8h0M592.6 677.6h0M615.7 701.3h0M587.5 683.5h0M611.0 652.5h0M626.5 665.5h0M590.0 658.5h0M585.2 676.2h0M643.2 692.2h0M618.7 702.6h0M636.2 669.1h0M612.7 649.5h0M614.6 660.8h0M614.8 654.3h0M627.9 671.0h0M599.5 695.7h0M586.8 666.3h0M643.0 679.2h0M608.5 700.5h0M590.6 667.8h0M642.0 673.0h0M605.2 642.8h0M629.6 684.7h0M592.2 666.8h0M595.0 682.1h0M630.1 683.9h0M623.5 678.8h0M621.5 683.7h0M638.6 691.1h0M594.9 693.4h0M647.3 683.3h0M647.9 683.7h0M601.9 671.9h0M621.8 687.2h0M642.8 662.3h0M602.0 648.7h0M633.1 674.3h0M611.9 664.6h0M603.3 698.0h0M619.7 654.7h0M642.6 685.6h0M589.4 662.9h0M634.0 679.3h0M585.8 674.9h0M635.3 660.3h0M617.6 662.4h0M602.3 676.6h0M594.1 683.6h0M632.7 679.4h0M616.6 682.5h0M600.6 690.7h0M640.3 660.6h0M605.4 675.2h0M593.1 661.8h0M595.2 686.4h0M624.2 663.2h0M602.0 661.4h0M633.0 684.8h0M616.2 657.9h0M603.0 667.9h0M616.5 655.9h0M589.9 660.0h0M636.2 668.1h0M611.4 693.7h0M629.6 660.1h0M594.0 699.1h0M595.6 651.1h0M603.8 649.3h0M634.8 693.2h0M614.5 691.8h0M628.8 673.5h0M589.8 685.4h0M626.0 690.6h0M607.3 690.6h0M628.5 696.9h0M605.2 671.3h0M608.2 693.2h0M621.3 683.2h0M601.4 691.3h0M601.3 689.4h0M601.9 689.4h0M625.2 700.5h0M589.5 648.3h0M595.4 683.5h0M595.6 667.9h0M625.5 669.1h0M597.4 647.7h0M614.2 689.2h0M587.6 683.4h0M591.0 656.1h0M606.2 699.6h0M643.1 657.8h0M643.7 676.0h0M598.7 657.4h0M669.4 720.2h0M664.4 713.8h0M655.7 686.7h0M670.4 713.5h0M668.4 710.4h0M661.0 699.4h0M669.9 732.0h0M656.0 701.7h0M663.3 703.3h0M655.1 691.8h0M666.2 729.3h0M658.2 706.8h0M659.6 717.5h0M663.7 725.1h0M667.3 723.8h0M658.2 699.6h0M663.1 722.2h0M662.1 712.3h0M654.6 689.3h0M659.5 699.5h0M662.5 701.6h0M666.4 715.7h0M667.5 728.6h0M662.2 702.6h0M661.4 731.4h0M665.2 732.9h0M665.3 729.4h0M661.5 726.3h0M662.0 710.3h0M659.9 719.8h0M661.7 726.0h0M665.0 730.6h0M658.4 694.3h0M659.2 704.3h0M669.1 727.8h0M660.0 712.1h0M665.8 731.3h0M662.3 706.6h0M662.2 707.8h0M671.1 710.9h0M663.3 727.9h0M665.0 706.0h0M671.3 734.4h0M666.0 727.7h0M666.9 713.8h0M660.9 700.8h0M655.8 694.5h0M657.3 694.9h0M668.8 710.5h0M662.7 712.0h0M659.9 706.0h0M661.5 706.7h0M657.9 703.4h0M670.7 718.1h0M663.7 705.6h0M658.6 700.2h0M638.0 707.0h0M641.0 705.0h0M646.0 708.0h0M649.0 705.0h0M652.0 714.0h0M655.0 712.4h0M642.0 697.0h0M647.0 697.6h0M614.6 711.0h0M607.6 707.0h0M591.0 712.4h0M592.0 715.0h0M587.4 723.0h0M584.0 730.0h0M581.4 735.6h0M578.4 740.4h0M576.0 744.0h0M574.2 747.4h0M568.3 775.4h0M546.8 770.6h0M555.8 768.9h0M537.6 771.0h0M568.4 777.3h0M551.3 769.4h0M571.0 773.5h0M571.4 777.9h0M540.2 774.0h0M563.4 769.7h0M552.7 779.3h0M562.9 773.0h0M556.8 780.6h0M560.6 778.2h0M560.4 780.6h0M556.1 773.9h0M535.6 767.4h0M561.0 763.6h0M549.7 764.9h0M545.6 775.5h0M563.5 774.0h0M549.8 776.3h0M544.7 771.3h0M549.3 782.8h0M542.5 778.4h0M564.4 774.7h0M564.5 777.4h0M547.1 773.1h0M560.1 784.1h0M553.1 768.0h0M555.4 783.5h0M547.8 768.3h0M539.6 767.9h0M544.1 776.8h0M560.4 773.8h0M568.5 778.0h0M555.9 767.8h0M555.9 776.0h0M560.6 768.5h0M548.8 767.1h0M543.4 768.5h0M548.5 783.4h0M551.4 762.9h0M545.4 767.7h0M545.1 766.4h0M560.5 772.8h0M563.9 772.3h0M563.9 764.6h0M559.2 781.0h0M573.3 774.9h0M542.5 766.7h0M560.2 769.5h0M572.7 779.0h0M540.1 773.7h0M570.7 772.4h0M563.2 771.6h0M539.0 776.4h0M550.7 777.9h0M562.6 781.0h0M549.6 780.9h0M551.8 765.5h0M547.8 763.3h0M572.2 781.0h0M550.4 772.6h0M555.1 764.5h0M552.7 777.3h0M563.2 775.7h0M566.1 770.0h0M548.0 779.1h0M535.8 771.7h0M566.6 770.7h0M546.6 778.9h0M564.2 776.4h0M566.3 778.3h0M549.9 764.0h0M557.5 764.0h0M548.4 771.3h0M545.4 766.6h0M548.0 790.0h0M545.0 794.0h0M547.6 796.0h0M604.0 782.4h0M603.0 786.4h0M736.4 784.4h0M738.0 796.0h0M712.4 820.0h0M696.0 830.0h0M700.0 834.4h0M702.0 839.0h0M712.0 718.0h0M722.0 721.0h0M725.0 718.0h0M728.0 715.6h0M731.0 717.0h0M732.4 718.4h0M741.0 716.2h0M723.6 719.6h0M736.4 784.4h0M739.0 795.6h0M741.0 793.6h0M742.4 792.0h0M797.4 777.4h0M799.0 779.4h0M794.0 782.4h0M795.6 784.4h0M792.0 789.2h0M797.0 791.0h0M798.0 794.0h0M798.6 796.4h0M712.4 820.0h0M718.1 853.8h0M707.5 857.8h0M692.2 847.2h0M727.8 853.2h0M683.0 850.1h0M699.4 853.2h0M709.4 848.9h0M713.7 857.3h0M689.0 857.0h0M705.1 844.9h0M704.8 854.8h0M730.9 845.5h0M726.4 849.5h0M701.1 851.0h0M699.5 858.7h0M703.7 861.9h0M690.9 859.6h0M686.0 844.8h0M705.4 846.9h0M701.9 852.8h0M689.2 855.3h0M696.7 854.4h0M723.6 856.5h0M706.9 861.6h0M687.6 855.5h0M725.0 846.3h0M712.6 860.6h0M706.3 845.1h0M703.8 858.2h0M693.4 861.0h0M706.9 849.5h0M706.0 862.9h0M712.6 853.4h0M724.2 852.9h0M730.7 852.6h0M728.6 846.7h0M708.0 848.4h0M698.4 860.2h0M697.7 846.0h0M728.7 856.9h0M718.7 849.1h0M694.0 846.7h0M684.4 847.2h0M707.6 856.3h0M725.1 845.1h0M730.9 851.2h0M702.1 857.9h0M688.9 850.2h0M722.0 851.0h0M712.6 850.0h0M714.1 859.9h0M725.6 860.5h0M727.6 851.0h0M730.6 852.5h0M700.6 846.4h0M712.6 861.4h0M694.3 846.1h0M718.1 854.1h0M728.4 845.4h0M698.9 855.3h0M710.2 852.9h0M697.6 859.8h0M705.0 852.7h0M714.1 854.4h0M701.5 845.6h0M685.5 848.0h0M699.6 849.7h0M727.6 846.0h0M715.7 850.9h0M688.3 853.6h0M683.7 852.1h0M711.7 846.8h0M716.3 861.8h0M724.5 855.0h0M702.0 853.4h0M723.1 851.6h0M701.5 848.0h0M713.1 854.2h0M718.1 855.7h0M702.9 859.2h0M690.9 850.1h0M703.0 845.0h0M720.5 858.3h0M703.8 848.0h0M699.4 855.5h0M695.8 829.8h0M700.2 834.4h0M702.4 839.4h0M715.0 843.6h0M720.6 840.6h0M731.0 838.0h0M735.6 841.2h0M725.6 843.0h0M685.1 930.1h0M696.7 934.9h0M704.7 934.0h0M708.0 935.3h0M710.7 937.3h0M713.3 939.3h0M716.7 937.3h0M718.7 940.7h0M715.3 941.3h0M713.3 943.7h0M709.3 942.7h0M707.3 945.3h0M706.0 947.3h0M706.7 949.3h0M705.3 952.4h0M648.7 980.7h0M650.0 982.4h0M652.0 984.0h0M650.7 983.3h0"/>
<path stroke="#8a60f3" d="M677.4 121.6h0M708.2 141.6h0M706.8 145.4h0M658.8 150.0h0M709.6 163.4h0M721.0 186.0h0M719.0 193.4h0M716.6 201.6h0M762.2 211.6h0M743.4 224.4h0M824.0 280.0h0M801.6 288.6h0M650.6 241.0h0M669.0 249.6h0M537.6 217.6h0M543.4 215.6h0M543.2 222.4h0M568.2 230.2h0M576.6 228.2h0M534.4 244.4h0M610.0 237.2h0M603.4 242.6h0M545.4 310.2h0M540.0 316.0h0M533.0 322.8h0M476.8 354.2h0M394.2 387.0h0M398.4 388.8h0M383.8 401.4h0M377.0 412.6h0M383.2 421.2h0M396.0 429.2h0M478.4 457.4h0M545.8 496.4h0M416.4 552.6h0M442.6 592.4h0M690.2 429.6h0M659.4 440.4h0M673.0 447.8h0M687.8 448.0h0M699.4 442.2h0M705.2 447.0h0M656.4 453.4h0M683.6 457.4h0M681.2 464.8h0M686.2 464.2h0M697.8 474.4h0M601.0 434.4h0M628.0 458.4h0M997.8 627.2h0M1009.6 646.6h0M1046.8 664.6h0M950.2 671.6h0M980.8 683.6h0M1046.2 688.4h0M1009.6 691.4h0M947.4 691.6h0M960.2 698.0h0M970.8 700.2h0M941.0 705.2h0M897.4 706.6h0M890.2 714.4h0M1031.0 704.0h0M1006.6 720.4h0M898.4 727.4h0M908.2 730.0h0M926.6 735.4h0M921.4 738.0h0M917.4 740.0h0M943.8 734.6h0M985.4 751.4h0M960.0 754.8h0M919.6 767.4h0M912.4 776.4h0M171.8 528.2h0M201.8 521.2h0M206.2 524.2h0M182.8 538.4h0M172.2 545.0h0M343.4 720.2h0M332.0 776.8h0M343.6 776.6h0M367.4 791.2h0M373.2 791.2h0M401.6 805.4h0M305.6 814.6h0M322.8 825.0h0M303.0 832.4h0M298.8 840.0h0M378.4 832.6h0M394.4 831.2h0M426.8 841.2h0M451.8 852.2h0M453.2 857.0h0M468.2 849.6h0M472.4 848.4h0M495.2 887.2h0M501.6 915.4h0M512.2 1019.4h0M616.6 656.2h0M625.8 676.6h0M617.4 682.4h0M598.4 684.8h0M652.2 693.2h0M717.8 720.2h0M709.4 845.4h0M688.8 854.4h0M723.8 859.6h0M701.5 934.3h0"/>
<path stroke="#0000ff" d="M767.4 206.8h0M637.6 244.2h0M657.8 249.4h0M696.2 227.8h0M535.6 215.6h0M544.4 229.0h0M557.0 228.6h0M537.0 318.6h0M675.4 420.0h0M676.4 428.6h0M977.0 709.6h0M958.0 717.0h0M1028.4 706.0h0M990.0 729.2h0M953.2 748.4h0M935.4 769.4h0M915.4 778.0h0M959.4 779.4h0M626.6 896.0h0"/>
</g>
</svg>
</body></html>
